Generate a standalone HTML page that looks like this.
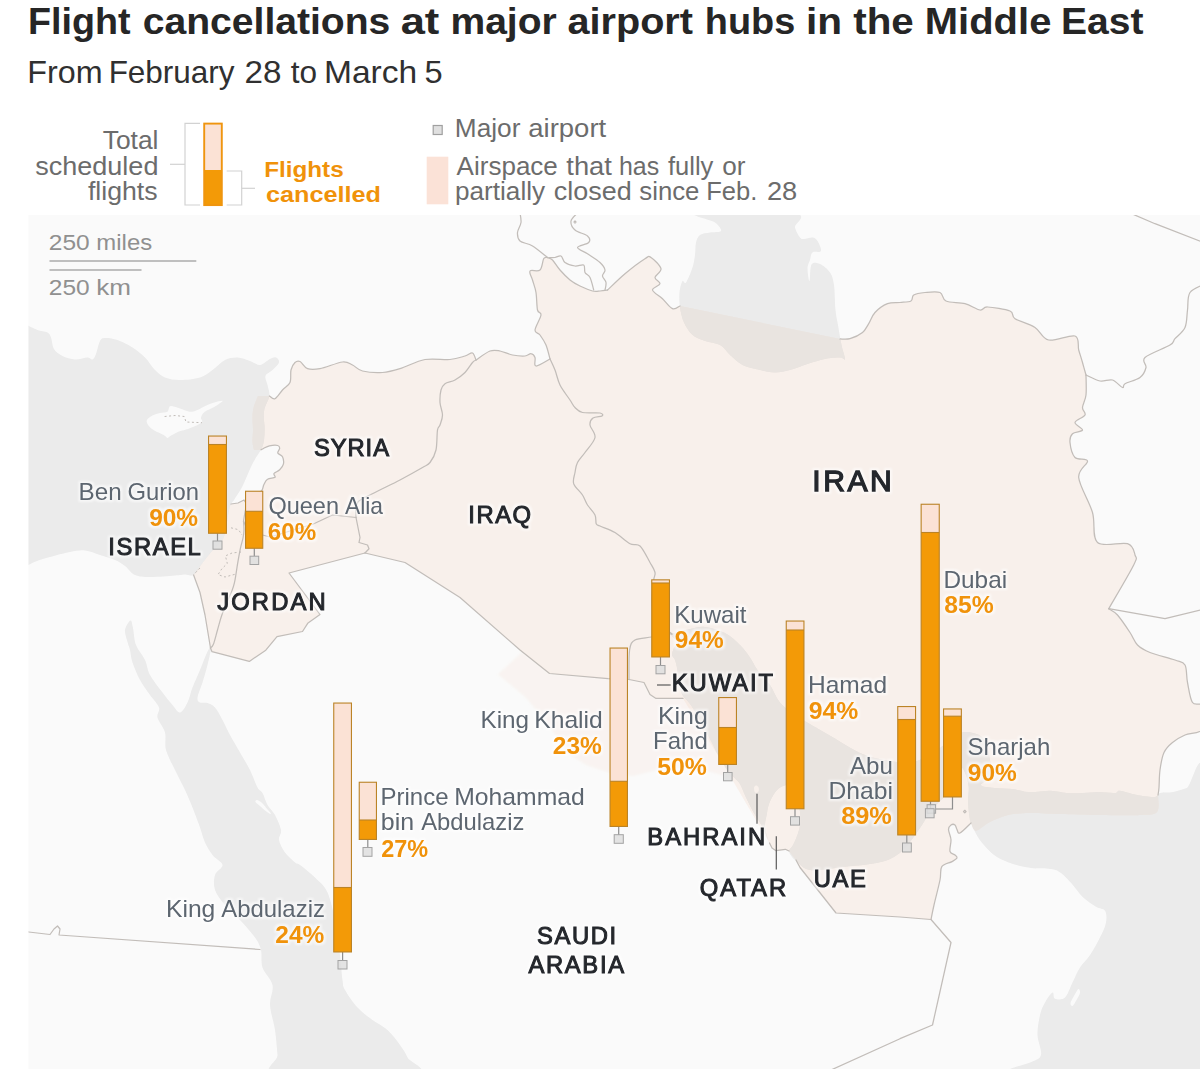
<!DOCTYPE html>
<html lang="en"><head><meta charset="utf-8">
<title>Flight cancellations at major airport hubs in the Middle East</title>
<style>html,body{margin:0;padding:0;background:#fff}body{width:1200px;height:1069px;overflow:hidden}svg{display:block;font-family:"Liberation Sans", Arial, Helvetica, sans-serif}text{white-space:pre}</style>
</head><body>
<svg width="1200" height="1069" viewBox="0 0 1200 1069">
<rect width="1200" height="1069" fill="#ffffff"/>
<defs><clipPath id="mapclip"><rect x="28.5" y="215" width="1172" height="855"/></clipPath>
<clipPath id="pinkclip"><path d="M254.0 450.0C253.8 448.7 252.7 445.3 252.5 442.0C252.3 438.7 253.0 434.0 253.0 430.0C253.0 426.0 252.4 421.7 252.5 418.0C252.6 414.3 252.6 411.7 253.5 408.0C254.4 404.3 257.2 398.0 258.0 396.0L269.4 396.0C270.3 396.4 272.8 399.7 275.0 398.7C277.2 397.7 280.0 392.7 282.5 390.0C285.0 387.3 288.6 385.8 290.0 382.5C291.4 379.2 290.2 373.3 291.0 370.0C291.8 366.7 293.5 363.9 295.0 362.5C296.5 361.1 297.9 360.5 300.0 361.5C302.1 362.5 304.2 367.5 307.5 368.7C310.8 369.9 314.2 369.8 320.0 368.7C325.8 367.6 337.1 362.6 342.5 362.0C347.9 361.4 349.2 363.5 352.5 365.0C355.8 366.5 357.5 369.8 362.5 371.0C367.5 372.2 376.2 372.9 382.5 372.5C388.8 372.1 392.9 370.9 400.0 368.7C407.1 366.5 416.7 361.0 425.0 359.5C433.3 358.0 443.3 360.1 450.0 359.5C456.7 358.9 461.2 357.1 465.0 356.0C468.8 354.9 470.7 352.3 472.5 353.0C474.3 353.7 475.4 358.8 476.0 360.0C478.3 358.5 486.0 352.5 490.0 351.0C494.0 349.5 496.2 350.3 500.0 351.0C503.8 351.7 508.3 354.2 512.5 355.0C516.7 355.8 521.9 356.2 525.0 356.0C528.1 355.8 529.3 353.4 531.0 353.7C532.7 353.9 534.2 355.4 535.0 357.5C535.8 359.6 533.5 365.8 536.0 366.0C538.5 366.2 547.7 360.2 550.0 359.0C549.3 356.7 547.7 349.0 546.0 345.0C544.3 341.0 541.8 337.5 540.0 335.0C538.2 332.5 534.8 333.3 535.0 330.0C535.2 326.7 540.6 318.3 541.0 315.0C541.4 311.7 538.3 313.8 537.5 310.0C536.7 306.2 536.8 297.5 536.0 292.5C535.2 287.5 533.5 283.6 532.5 280.0C531.5 276.4 528.8 272.7 530.0 271.0C531.2 269.3 537.7 272.1 540.0 270.0C542.3 267.9 542.5 260.8 543.7 258.7C545.0 256.6 546.9 257.7 547.5 257.5C548.3 257.9 550.4 257.9 552.5 260.0C554.6 262.1 557.1 266.7 560.0 270.0C562.9 273.3 566.7 277.3 570.0 280.0C573.3 282.7 576.2 284.2 580.0 286.0C583.8 287.8 589.2 290.2 592.5 291.0C595.8 291.8 597.5 291.2 600.0 291.0C602.5 290.8 606.2 290.2 607.5 290.0C610.4 287.3 618.8 278.9 625.0 273.7C631.2 268.5 640.7 261.4 645.0 258.7C649.3 256.0 648.3 255.8 651.0 257.5C653.7 259.2 660.3 265.4 661.0 268.7C661.7 272.0 655.2 275.0 655.0 277.5C654.8 280.0 660.4 281.6 660.0 283.7C659.6 285.8 652.1 287.5 652.5 290.0C652.9 292.5 659.2 295.6 662.5 298.7C665.8 301.8 669.6 307.5 672.5 308.7C675.4 309.9 678.8 306.4 680.0 306.0L840.0 339.0C841.7 338.9 846.2 339.8 850.0 338.7C853.8 337.6 859.4 335.0 862.5 332.5C865.6 330.0 866.6 327.0 868.7 323.7C870.8 320.4 871.9 315.8 875.0 312.5C878.1 309.2 883.3 305.4 887.5 303.7C891.7 302.0 896.1 302.9 900.0 302.5C903.9 302.1 908.7 302.2 911.0 301.0C913.3 299.8 911.4 296.4 913.7 295.0C916.0 293.6 920.6 292.9 925.0 292.5C929.4 292.1 936.5 291.1 940.0 292.5C943.5 293.9 941.8 299.1 946.0 301.0C950.2 302.9 959.3 302.2 965.0 303.7C970.7 305.2 976.2 309.4 980.0 310.0C983.8 310.6 982.5 306.8 987.5 307.0C992.5 307.2 1005.4 309.1 1010.0 311.0C1014.6 312.9 1010.8 315.9 1015.0 318.7C1019.2 321.4 1029.4 323.9 1035.0 327.5C1040.6 331.1 1042.0 338.6 1048.7 340.0C1055.4 341.4 1070.0 334.3 1075.0 336.0C1080.0 337.7 1077.5 345.6 1078.7 350.0C1080.0 354.4 1081.3 358.3 1082.5 362.5C1083.7 366.7 1085.4 372.9 1086.0 375.0C1086.0 378.3 1086.6 389.6 1086.0 395.0C1085.4 400.4 1082.7 404.2 1082.5 407.5C1082.3 410.8 1086.2 412.5 1085.0 415.0C1083.8 417.5 1075.4 420.0 1075.0 422.5C1074.6 425.0 1082.9 428.1 1082.5 430.0C1082.1 431.9 1074.6 431.6 1072.5 433.7C1070.4 435.8 1069.6 438.5 1070.0 442.5C1070.4 446.5 1072.1 454.4 1075.0 457.5C1077.9 460.6 1086.9 457.7 1087.5 461.0C1088.1 464.3 1077.9 468.9 1078.7 477.5C1079.5 486.1 1089.4 501.7 1092.5 512.5C1095.6 523.3 1091.7 537.3 1097.5 542.5C1103.3 547.7 1121.2 541.6 1127.5 543.7C1133.8 545.8 1134.0 551.5 1135.0 555.0C1136.0 558.5 1138.1 556.0 1133.7 565.0C1129.3 574.0 1112.9 601.4 1108.7 608.7C1110.2 609.8 1114.0 611.0 1117.5 615.0C1121.0 619.0 1126.7 627.5 1130.0 632.5C1133.3 637.5 1134.2 641.7 1137.5 645.0C1140.8 648.3 1143.8 650.0 1150.0 652.5C1156.2 655.0 1169.2 657.9 1175.0 660.0C1180.8 662.1 1182.9 661.2 1185.0 665.0C1187.1 668.8 1186.2 676.2 1187.5 682.5C1188.8 688.8 1189.9 698.6 1192.5 702.5C1195.1 706.4 1201.2 701.6 1203.0 706.0C1204.8 710.4 1206.0 724.2 1203.0 729.0C1200.0 733.8 1190.1 732.8 1185.0 735.0C1179.9 737.2 1176.0 739.6 1172.5 742.5C1169.0 745.4 1166.1 747.9 1164.0 752.5C1161.9 757.1 1160.8 764.2 1160.0 770.0C1159.2 775.8 1159.3 783.3 1159.0 787.5C1158.7 791.7 1158.2 793.8 1158.0 795.0C1157.8 797.8 1160.0 808.7 1157.0 812.0C1154.0 815.3 1149.5 814.5 1140.0 815.0C1130.5 815.5 1113.3 815.2 1100.0 815.0C1086.7 814.8 1071.7 814.3 1060.0 814.0C1048.3 813.7 1038.7 812.8 1030.0 813.0C1021.3 813.2 1014.7 813.5 1008.0 815.0C1001.3 816.5 995.0 819.5 990.0 822.0C985.0 824.5 980.7 828.7 978.0 830.0C975.3 831.3 975.0 830.8 973.8 829.6C972.6 828.4 971.5 824.1 971.0 823.0C969.2 824.7 962.3 831.9 960.0 833.0C957.7 834.1 957.8 830.9 957.0 829.6C956.2 828.3 956.0 825.8 955.0 825.0C954.0 824.2 952.1 824.2 951.0 825.0C949.9 825.8 948.5 827.1 948.5 829.6C948.5 832.1 950.8 836.1 951.0 839.7C951.2 843.4 949.3 849.0 950.0 851.5C950.7 854.0 953.8 853.9 955.0 855.0C956.2 856.1 957.5 856.9 957.0 858.0C956.5 859.1 954.5 860.1 952.0 861.6C949.5 863.1 943.8 863.6 941.8 866.7C939.8 869.8 941.3 873.6 940.0 880.0C938.7 886.4 935.5 898.4 934.0 905.0C932.5 911.6 931.5 917.1 931.0 919.5L900.0 917.0L836.0 913.0L800.0 867.5L796.0 860.0L789.0 851.0L785.3 849.3L776.0 850.7L772.0 848.0L769.5 843.0L683.0 696.0C684.2 697.3 687.7 700.8 690.0 704.0C692.3 707.2 694.7 711.0 697.0 715.0C699.3 719.0 701.7 723.7 704.0 728.0C706.3 732.3 708.8 736.8 711.0 741.0C713.2 745.2 714.8 749.0 717.0 753.0C719.2 757.0 722.0 761.8 724.0 765.0C726.0 768.2 727.2 769.8 729.0 772.0C730.8 774.2 733.2 776.5 735.0 778.5C736.8 780.5 738.3 781.1 740.0 784.0C741.7 786.9 743.1 791.3 745.3 796.0C747.5 800.7 750.8 807.5 753.3 812.0C755.8 816.5 758.0 819.2 760.0 822.7C762.0 826.2 764.4 831.5 765.3 833.3L683.0 698.4L656.0 698.4L650.0 694.5L644.0 682.5L629.0 679.5L608.0 678.6L549.5 673.5L520.0 650.0L460.0 597.5L405.0 562.5L365.0 553.0L289.0 573.0L320.0 614.5L307.7 623.3L302.5 631.5L277.0 636.7L265.8 650.2L249.3 661.4L212.0 651.7L210.5 648.0L205.0 615.0L200.0 592.5L193.6 575.0C194.8 573.3 198.2 568.7 201.0 565.0C203.8 561.3 207.7 556.2 210.4 553.0C213.1 549.8 214.8 548.5 217.0 546.0C219.2 543.5 221.9 541.5 223.5 538.0C225.1 534.5 225.6 529.7 226.5 525.0C227.4 520.3 228.2 513.5 229.0 510.0C229.8 506.5 230.7 505.0 231.0 504.0L238.0 503.0L244.0 500.0L247.0 504.0C247.7 503.2 249.5 500.5 251.0 499.0C252.5 497.5 254.2 496.4 256.0 495.0C257.8 493.6 260.6 492.1 261.9 490.4C263.2 488.7 262.9 486.7 263.8 484.8C264.7 482.9 265.6 480.4 267.5 479.2C269.4 477.9 273.9 478.2 275.0 477.3C276.1 476.4 273.2 474.8 274.0 473.5C274.8 472.2 278.1 471.4 279.7 469.8C281.3 468.2 282.9 466.4 283.4 464.2C283.9 462.0 283.4 458.6 282.5 456.7C281.6 454.8 278.3 454.4 277.8 453.0C277.3 451.6 279.7 449.6 279.7 448.3C279.7 447.1 279.5 445.9 277.8 445.5C276.1 445.1 271.7 445.4 269.4 445.9C267.1 446.4 265.2 447.6 263.8 448.3C262.4 449.0 261.5 449.6 261.0 449.8L254.0 450.0Z"/></clipPath>
<filter id="soft" x="-5%" y="-5%" width="110%" height="110%"><feGaussianBlur stdDeviation="0.6"/></filter>
<filter id="soft2" x="-10%" y="-10%" width="120%" height="120%"><feGaussianBlur stdDeviation="1.3"/></filter>
<filter id="halo" x="-15%" y="-40%" width="130%" height="180%" color-interpolation-filters="sRGB"><feMorphology in="SourceAlpha" operator="dilate" radius="1.6" result="d"/><feGaussianBlur in="d" stdDeviation="0.9" result="b"/><feFlood flood-color="#ffffff" flood-opacity="0.62"/><feComposite in2="b" operator="in" result="h"/><feMerge><feMergeNode in="h"/><feMergeNode in="SourceGraphic"/></feMerge></filter>
</defs>
<g clip-path="url(#mapclip)">
<rect x="28" y="214" width="1173" height="856" fill="#fafafa"/>
<g fill="#ebebeb" filter="url(#soft)">
<path d="M20.0 324.0C21.4 283.8 25.8 325.0 28.7 326.0C31.6 327.0 34.4 328.9 37.5 330.0C40.6 331.1 45.2 331.2 47.5 332.5C49.8 333.8 49.9 334.8 51.0 337.5C52.1 340.2 52.1 345.9 54.0 349.0C55.9 352.1 59.0 354.2 62.5 356.0C66.0 357.8 70.8 359.2 75.0 359.5C79.2 359.8 84.6 357.5 87.5 357.5C90.4 357.5 91.1 360.1 92.5 359.5C93.9 358.9 94.8 357.1 96.0 354.0C97.2 350.9 98.5 343.7 100.0 341.0C101.5 338.3 102.1 338.2 105.0 338.0C107.9 337.8 112.9 338.4 117.5 340.0C122.1 341.6 127.9 344.6 132.5 347.5C137.1 350.4 141.2 353.8 145.0 357.5C148.8 361.2 151.7 366.7 155.0 370.0C158.3 373.3 160.8 375.8 165.0 377.5C169.2 379.2 174.2 380.0 180.0 380.0C185.8 380.0 194.6 379.2 200.0 377.5C205.4 375.8 208.3 372.9 212.5 370.0C216.7 367.1 220.8 362.1 225.0 360.0C229.2 357.9 233.3 357.3 237.5 357.5C241.7 357.7 246.2 359.8 250.0 361.0C253.8 362.2 256.7 365.3 260.0 365.0C263.3 364.7 267.3 360.2 270.0 359.0C272.7 357.8 274.5 356.9 276.0 357.5C277.5 358.1 279.6 360.4 279.0 362.5C278.4 364.6 274.8 367.8 272.5 370.0C270.2 372.2 266.3 373.5 265.5 376.0C264.7 378.5 266.9 381.7 267.5 385.0C268.1 388.3 269.9 392.2 269.4 396.0C268.9 399.8 265.6 404.4 264.7 408.0C263.8 411.6 263.8 414.0 263.8 417.4C263.8 420.8 264.7 424.6 264.7 428.6C264.7 432.7 264.4 438.2 263.8 441.7C263.2 445.2 262.4 447.0 261.0 449.8C259.6 452.6 257.3 455.3 255.4 458.6C253.5 461.9 251.9 465.1 249.7 469.8C247.5 474.5 244.9 481.6 242.3 486.6C239.7 491.6 235.9 497.1 234.0 500.0C232.1 502.9 231.8 502.3 231.0 504.0C230.2 505.7 229.8 506.5 229.0 510.0C228.2 513.5 227.4 520.3 226.5 525.0C225.6 529.7 225.1 534.5 223.5 538.0C221.9 541.5 219.2 543.5 217.0 546.0C214.8 548.5 213.1 549.8 210.4 553.0C207.7 556.2 203.8 561.3 201.0 565.0C198.2 568.7 196.3 573.4 193.6 575.0C190.9 576.6 188.1 574.4 185.0 574.5C181.9 574.6 180.8 575.1 175.0 575.5C169.2 575.9 156.7 577.1 150.0 577.0C143.3 576.9 139.2 576.8 135.0 575.0C130.8 573.2 128.3 568.5 125.0 566.0C121.7 563.5 119.2 561.8 115.0 560.0C110.8 558.2 105.0 556.6 100.0 555.0C95.0 553.4 90.0 551.0 85.0 550.5C80.0 550.0 75.8 550.9 70.0 552.0C64.2 553.1 55.5 555.5 50.0 557.0C44.5 558.5 40.7 559.7 37.0 561.0C33.3 562.3 30.8 564.0 28.0 565.0C25.2 566.0 21.3 607.2 20.0 567.0C18.7 526.8 18.6 364.2 20.0 324.0Z"/>
<path d="M130.5 620.5C129.2 620.8 125.5 626.4 125.0 630.0C124.5 633.6 126.7 638.7 127.5 642.0C128.3 645.3 129.2 646.6 130.0 650.0C130.8 653.4 130.8 657.5 132.5 662.5C134.2 667.5 137.1 674.6 140.0 680.0C142.9 685.4 146.8 690.4 150.0 695.0C153.2 699.6 157.8 703.8 159.0 707.5C160.2 711.2 156.5 713.3 157.5 717.5C158.5 721.7 163.6 727.1 165.0 732.5C166.4 737.9 164.3 743.8 166.0 750.0C167.7 756.2 171.8 763.3 175.0 770.0C178.2 776.7 182.1 783.8 185.0 790.0C187.9 796.2 190.0 801.2 192.5 807.5C195.0 813.8 197.9 821.7 200.0 827.5C202.1 833.3 202.9 837.9 205.0 842.5C207.1 847.1 209.6 851.2 212.5 855.0C215.4 858.8 222.1 861.7 222.5 865.0C222.9 868.3 216.2 870.8 215.0 875.0C213.8 879.2 213.3 885.0 215.0 890.0C216.7 895.0 220.8 900.0 225.0 905.0C229.2 910.0 235.0 914.6 240.0 920.0C245.0 925.4 251.5 932.5 255.0 937.5C258.5 942.5 259.8 945.0 261.0 950.0C262.2 955.0 260.6 961.7 262.5 967.5C264.4 973.3 271.2 978.8 272.5 985.0C273.8 991.2 269.6 997.5 270.0 1005.0C270.4 1012.5 273.8 1021.7 275.0 1030.0C276.2 1038.3 276.8 1047.5 277.5 1055.0C278.2 1062.5 256.2 1071.7 279.0 1075.0C301.8 1078.3 392.6 1077.9 414.0 1075.0C435.4 1072.1 409.8 1062.5 407.5 1057.5C405.2 1052.5 403.3 1049.6 400.0 1045.0C396.7 1040.4 392.1 1034.2 387.5 1030.0C382.9 1025.8 377.5 1023.8 372.5 1020.0C367.5 1016.2 362.1 1012.5 357.5 1007.5C352.9 1002.5 347.5 994.6 345.0 990.0C342.5 985.4 343.3 985.8 342.5 980.0C341.7 974.2 341.1 964.2 340.0 955.0C338.9 945.8 338.1 935.4 336.0 925.0C333.9 914.6 331.0 900.4 327.5 892.5C324.0 884.6 319.6 882.1 315.0 877.5C310.4 872.9 303.3 867.5 300.0 865.0C296.7 862.5 297.5 864.6 295.0 862.5C292.5 860.4 287.7 856.2 285.0 852.5C282.3 848.8 279.7 843.8 279.0 840.0C278.3 836.2 281.7 834.2 281.0 830.0C280.3 825.8 277.2 819.2 275.0 815.0C272.8 810.8 269.6 808.7 267.5 805.0C265.4 801.3 264.2 795.9 262.5 793.0C260.8 790.1 259.6 791.3 257.5 787.5C255.4 783.7 252.9 775.8 250.0 770.0C247.1 764.2 243.3 758.3 240.0 752.5C236.7 746.7 232.9 740.4 230.0 735.0C227.1 729.6 225.0 724.6 222.5 720.0C220.0 715.4 217.5 710.3 215.0 707.5C212.5 704.7 210.0 703.8 207.5 703.0C205.0 702.2 201.7 703.4 200.0 702.5C198.3 701.6 197.1 700.8 197.5 697.5C197.9 694.2 200.8 687.9 202.5 682.5C204.2 677.1 206.1 670.6 207.5 665.0C208.9 659.4 210.6 652.0 211.0 649.0C211.4 646.0 210.8 646.0 210.0 647.0C209.2 648.0 207.7 651.2 206.0 655.0C204.3 658.8 202.2 664.6 200.0 670.0C197.8 675.4 194.6 682.1 192.5 687.5C190.4 692.9 189.6 698.3 187.5 702.5C185.4 706.7 182.5 712.1 180.0 712.5C177.5 712.9 175.4 708.3 172.5 705.0C169.6 701.7 166.2 697.5 162.5 692.5C158.8 687.5 152.9 680.4 150.0 675.0C147.1 669.6 147.3 665.0 145.0 660.0C142.7 655.0 138.0 650.3 136.0 645.0C134.0 639.7 133.9 632.1 133.0 628.0C132.1 623.9 131.8 620.2 130.5 620.5Z"/>
<path d="M697.5 213.0C684.3 214.6 711.1 219.5 715.0 222.5C718.9 225.5 721.8 229.3 721.0 231.0C720.2 232.7 713.5 231.8 710.0 232.5C706.5 233.2 702.3 233.3 700.0 235.0C697.7 236.7 696.8 239.2 696.0 242.5C695.2 245.8 695.6 250.8 695.0 255.0C694.4 259.2 694.0 262.9 692.5 267.5C691.0 272.1 687.7 280.2 686.0 282.5C684.3 284.8 683.6 279.3 682.5 281.0C681.4 282.7 679.9 288.1 679.5 292.5C679.1 296.9 679.2 302.5 680.0 307.5C680.8 312.5 681.9 317.9 684.0 322.5C686.1 327.1 689.0 331.9 692.5 335.0C696.0 338.1 700.4 339.3 705.0 341.0C709.6 342.7 715.8 342.7 720.0 345.0C724.2 347.3 726.2 351.7 730.0 355.0C733.8 358.3 737.5 362.5 742.5 365.0C747.5 367.5 754.6 368.8 760.0 370.0C765.4 371.2 770.0 372.5 775.0 372.5C780.0 372.5 784.6 371.4 790.0 370.0C795.4 368.6 801.7 365.8 807.5 364.0C813.3 362.2 819.6 360.1 825.0 359.0C830.4 357.9 836.7 357.5 840.0 357.5C843.3 357.5 844.8 361.1 845.0 359.0C845.2 356.9 842.7 350.7 841.5 345.0C840.3 339.3 839.0 330.8 838.0 325.0C837.0 319.2 836.2 316.7 835.5 310.0C834.8 303.3 834.9 291.2 834.0 285.0C833.1 278.8 832.3 276.0 830.0 272.5C827.7 269.0 823.1 265.3 820.0 264.0C816.9 262.7 813.2 261.7 811.5 264.5C809.8 267.3 810.2 280.4 809.5 281.0C808.8 281.6 807.4 271.5 807.5 268.0C807.6 264.5 809.2 262.6 810.0 260.0C810.8 257.4 810.7 254.0 812.5 252.5C814.3 251.0 820.2 252.9 821.0 251.0C821.8 249.1 818.9 243.2 817.5 241.0C816.1 238.8 814.8 237.8 812.5 237.5C810.2 237.2 806.1 239.0 804.0 239.0C801.9 239.0 801.5 239.4 800.0 237.5C798.5 235.6 796.0 231.6 795.0 227.5C794.0 223.4 810.2 215.4 794.0 213.0C777.8 210.6 710.7 211.4 697.5 213.0Z"/>
<path d="M672.0 634.0C674.3 632.2 684.5 630.2 690.0 629.0C695.5 627.8 699.2 626.3 705.0 627.0C710.8 627.7 719.2 630.0 725.0 633.0C730.8 636.0 735.8 640.9 740.0 645.0C744.2 649.1 747.1 653.3 750.0 657.5C752.9 661.7 754.2 665.4 757.5 670.0C760.8 674.6 766.2 679.6 770.0 685.0C773.8 690.4 775.8 697.5 780.0 702.5C784.2 707.5 790.0 711.4 795.0 715.0C800.0 718.6 805.5 721.3 810.0 724.0C814.5 726.7 817.8 728.6 822.0 731.0C826.2 733.4 830.7 735.9 835.0 738.5C839.3 741.1 843.4 743.9 848.0 746.5C852.6 749.1 858.0 752.1 862.5 754.0C867.0 755.9 870.4 756.8 875.0 758.0C879.6 759.2 884.5 760.2 890.0 761.0C895.5 761.8 902.3 763.5 908.0 763.0C913.7 762.5 918.7 760.5 924.0 758.0C929.3 755.5 934.2 752.1 940.0 748.0C945.8 743.9 953.2 735.9 959.0 733.5C964.8 731.1 970.7 732.2 975.0 733.5C979.3 734.8 982.5 736.6 985.0 741.0C987.5 745.4 989.0 754.2 990.0 760.0C991.0 765.8 992.5 771.8 991.0 776.0C989.5 780.2 980.4 783.0 981.0 785.0C981.6 787.0 989.4 787.3 994.7 788.0C1000.0 788.7 1007.3 788.3 1013.0 789.0C1018.7 789.7 1022.7 791.7 1029.0 792.0C1035.3 792.3 1044.4 790.5 1050.7 790.7C1057.0 790.9 1061.4 792.6 1066.7 793.0C1072.0 793.4 1077.4 793.2 1082.7 793.0C1088.0 792.8 1093.4 792.0 1098.7 792.0C1104.0 792.0 1111.2 793.2 1114.7 793.0C1118.2 792.8 1116.5 790.4 1120.0 790.7C1123.5 791.0 1130.2 793.7 1136.0 794.7C1141.8 795.8 1150.7 797.3 1154.7 797.0C1158.7 796.7 1157.0 793.8 1160.0 793.0C1163.0 792.2 1168.5 792.8 1173.0 792.0C1177.5 791.2 1181.4 789.5 1186.7 788.0C1192.0 786.5 1202.0 735.2 1205.0 783.0C1208.0 830.8 1237.8 1026.3 1205.0 1075.0C1172.2 1123.7 1040.5 1076.0 1008.0 1075.0C975.5 1074.0 1006.3 1071.1 1010.0 1069.0C1013.7 1066.9 1024.8 1064.8 1030.0 1062.5C1035.2 1060.2 1039.8 1059.6 1041.0 1055.0C1042.2 1050.4 1037.7 1041.7 1037.5 1035.0C1037.3 1028.3 1038.8 1020.4 1040.0 1015.0C1041.2 1009.6 1042.9 1006.2 1045.0 1002.5C1047.1 998.8 1050.8 993.1 1052.5 992.5C1054.2 991.9 1052.9 997.9 1055.0 998.7C1057.1 999.5 1062.1 1000.2 1065.0 997.5C1067.9 994.8 1070.0 987.5 1072.5 982.5C1075.0 977.5 1077.1 972.1 1080.0 967.5C1082.9 962.9 1086.7 960.0 1090.0 955.0C1093.3 950.0 1097.3 942.9 1100.0 937.5C1102.7 932.1 1105.2 927.0 1106.0 922.5C1106.8 918.0 1106.7 913.3 1105.0 910.7C1103.3 908.1 1099.7 909.0 1096.0 906.7C1092.3 904.4 1086.7 900.8 1082.7 897.0C1078.7 893.2 1075.6 888.0 1072.0 884.0C1068.4 880.0 1064.5 875.5 1061.0 873.0C1057.5 870.5 1055.7 869.8 1050.7 869.0C1045.7 868.2 1037.3 868.8 1031.0 868.0C1024.7 867.2 1018.7 865.8 1013.0 864.0C1007.3 862.2 1001.3 859.6 997.0 857.0C992.7 854.4 990.0 851.6 987.0 848.5C984.0 845.4 981.0 841.6 978.8 838.5C976.6 835.4 975.1 832.2 973.8 829.6C972.5 827.0 971.7 824.9 971.0 823.0C970.3 821.1 970.1 821.7 969.6 818.0C969.1 814.3 968.1 806.1 968.0 801.0C967.9 795.9 969.0 791.8 968.7 787.5C968.4 783.2 967.3 778.4 966.0 775.0C964.7 771.6 962.8 767.5 961.0 767.0C959.2 766.5 956.5 769.0 955.0 772.0C953.5 775.0 953.5 781.2 952.0 785.0C950.5 788.8 948.3 792.0 946.0 795.0C943.7 798.0 940.7 800.2 938.0 803.0C935.3 805.8 932.7 808.3 930.0 812.0C927.3 815.7 924.8 820.7 922.0 825.0C919.2 829.3 915.7 834.3 913.0 838.0C910.3 841.7 908.7 844.2 906.0 847.0C903.3 849.8 900.5 852.7 897.0 855.0C893.5 857.3 890.0 859.4 885.0 861.0C880.0 862.6 873.7 863.5 866.7 864.5C859.7 865.5 850.8 866.1 843.0 867.0C835.2 867.9 826.2 869.7 820.0 870.0C813.8 870.3 809.8 870.4 806.0 869.0C802.2 867.6 799.3 863.5 797.0 861.5C794.7 859.5 793.3 858.8 792.0 857.0C790.7 855.2 788.8 853.0 789.0 851.0C789.2 849.0 791.7 847.5 793.0 845.0C794.3 842.5 795.8 839.3 797.0 836.0C798.2 832.7 799.5 829.0 800.0 825.0C800.5 821.0 800.5 816.2 800.0 812.0C799.5 807.8 798.2 803.7 797.0 800.0C795.8 796.3 794.5 792.5 793.0 790.0C791.5 787.5 790.0 785.5 788.0 785.0C786.0 784.5 783.2 785.8 781.0 787.0C778.8 788.2 777.0 789.7 775.0 792.5C773.0 795.3 770.4 800.2 769.0 804.0C767.6 807.8 767.4 811.5 766.7 815.0C766.0 818.5 765.0 821.5 765.0 825.0C765.0 828.5 766.2 833.0 767.0 836.0C767.8 839.0 769.8 843.5 769.5 843.0C769.2 842.5 766.9 836.7 765.3 833.3C763.7 829.9 762.0 826.2 760.0 822.7C758.0 819.2 755.8 816.5 753.3 812.0C750.8 807.5 747.5 800.7 745.3 796.0C743.1 791.3 741.7 786.9 740.0 784.0C738.3 781.1 736.8 780.5 735.0 778.5C733.2 776.5 730.8 774.2 729.0 772.0C727.2 769.8 726.0 768.2 724.0 765.0C722.0 761.8 719.2 757.0 717.0 753.0C714.8 749.0 713.2 745.2 711.0 741.0C708.8 736.8 706.3 732.3 704.0 728.0C701.7 723.7 699.3 719.0 697.0 715.0C694.7 711.0 692.3 707.2 690.0 704.0C687.7 700.8 684.7 698.7 683.0 696.0C681.3 693.3 680.8 691.3 680.0 688.0C679.2 684.7 678.5 679.3 678.0 676.0C677.5 672.7 677.5 670.7 677.0 668.0C676.5 665.3 675.8 662.2 675.0 660.0C674.2 657.8 672.2 657.0 672.0 655.0C671.8 653.0 673.0 650.0 674.0 648.0C675.0 646.0 677.7 644.3 678.0 643.0C678.3 641.7 677.0 641.5 676.0 640.0C675.0 638.5 669.7 635.8 672.0 634.0Z"/>
</g>
<g fill="#fafafa">
<path d="M146.8 420.2C147.4 418.5 150.3 416.7 152.5 415.5C154.7 414.3 157.5 413.6 160.0 413.0C162.5 412.4 165.7 412.9 167.4 411.8C169.1 410.7 168.3 406.8 170.2 406.2C172.1 405.6 175.0 407.1 178.6 408.0C182.2 408.9 187.3 412.1 191.7 411.8C196.1 411.5 201.1 407.8 204.8 406.2C208.6 404.6 211.2 403.4 214.2 402.5C217.2 401.6 222.6 400.2 222.6 401.0C222.6 401.8 217.2 405.2 214.2 407.0C211.2 408.8 207.0 410.1 204.8 411.8C202.6 413.5 201.5 415.7 201.0 417.4C200.5 419.1 203.2 420.4 202.0 422.0C200.8 423.6 196.3 425.5 193.6 426.8C190.9 428.1 188.8 428.7 186.0 429.6C183.2 430.5 179.4 431.3 176.8 432.4C174.2 433.5 171.8 435.1 170.2 436.0C168.6 436.9 168.5 438.2 167.4 438.0C166.3 437.8 165.9 436.2 163.7 435.0C161.5 433.8 156.8 432.0 154.3 430.5C151.8 429.0 149.9 427.5 148.7 425.8C147.4 424.1 146.2 421.9 146.8 420.2Z"/>
<path d="M257.0 800.0C258.1 800.2 260.2 801.3 262.0 803.0C263.8 804.7 266.5 808.2 268.0 810.0C269.5 811.8 271.2 813.7 271.0 814.0C270.8 814.3 268.8 813.3 267.0 812.0C265.2 810.7 261.9 807.7 260.0 806.0C258.1 804.3 256.0 803.0 255.5 802.0C255.0 801.0 255.9 799.8 257.0 800.0Z"/>
<path d="M754.2 787.0C754.5 786.0 755.8 785.4 756.5 785.5C757.2 785.6 758.2 786.6 758.6 787.5C759.0 788.4 759.0 790.1 758.6 791.0C758.2 791.9 757.2 792.9 756.5 793.0C755.8 793.1 754.9 792.5 754.5 791.5C754.1 790.5 753.9 788.0 754.2 787.0Z"/>
<path d="M1078.5 989.0C1079.5 988.5 1080.3 991.2 1080.0 993.0C1079.7 994.8 1077.8 997.8 1076.5 1000.0C1075.2 1002.2 1073.5 1005.5 1072.5 1006.0C1071.5 1006.5 1070.2 1004.7 1070.5 1003.0C1070.8 1001.3 1072.7 998.3 1074.0 996.0C1075.3 993.7 1077.5 989.5 1078.5 989.0Z"/>
</g>
<g fill="#f2c9b4" fill-opacity="0.21">
<path d="M254.0 450.0C253.8 448.7 252.7 445.3 252.5 442.0C252.3 438.7 253.0 434.0 253.0 430.0C253.0 426.0 252.4 421.7 252.5 418.0C252.6 414.3 252.6 411.7 253.5 408.0C254.4 404.3 257.2 398.0 258.0 396.0L269.4 396.0C270.3 396.4 272.8 399.7 275.0 398.7C277.2 397.7 280.0 392.7 282.5 390.0C285.0 387.3 288.6 385.8 290.0 382.5C291.4 379.2 290.2 373.3 291.0 370.0C291.8 366.7 293.5 363.9 295.0 362.5C296.5 361.1 297.9 360.5 300.0 361.5C302.1 362.5 304.2 367.5 307.5 368.7C310.8 369.9 314.2 369.8 320.0 368.7C325.8 367.6 337.1 362.6 342.5 362.0C347.9 361.4 349.2 363.5 352.5 365.0C355.8 366.5 357.5 369.8 362.5 371.0C367.5 372.2 376.2 372.9 382.5 372.5C388.8 372.1 392.9 370.9 400.0 368.7C407.1 366.5 416.7 361.0 425.0 359.5C433.3 358.0 443.3 360.1 450.0 359.5C456.7 358.9 461.2 357.1 465.0 356.0C468.8 354.9 470.7 352.3 472.5 353.0C474.3 353.7 475.4 358.8 476.0 360.0C478.3 358.5 486.0 352.5 490.0 351.0C494.0 349.5 496.2 350.3 500.0 351.0C503.8 351.7 508.3 354.2 512.5 355.0C516.7 355.8 521.9 356.2 525.0 356.0C528.1 355.8 529.3 353.4 531.0 353.7C532.7 353.9 534.2 355.4 535.0 357.5C535.8 359.6 533.5 365.8 536.0 366.0C538.5 366.2 547.7 360.2 550.0 359.0C549.3 356.7 547.7 349.0 546.0 345.0C544.3 341.0 541.8 337.5 540.0 335.0C538.2 332.5 534.8 333.3 535.0 330.0C535.2 326.7 540.6 318.3 541.0 315.0C541.4 311.7 538.3 313.8 537.5 310.0C536.7 306.2 536.8 297.5 536.0 292.5C535.2 287.5 533.5 283.6 532.5 280.0C531.5 276.4 528.8 272.7 530.0 271.0C531.2 269.3 537.7 272.1 540.0 270.0C542.3 267.9 542.5 260.8 543.7 258.7C545.0 256.6 546.9 257.7 547.5 257.5C548.3 257.9 550.4 257.9 552.5 260.0C554.6 262.1 557.1 266.7 560.0 270.0C562.9 273.3 566.7 277.3 570.0 280.0C573.3 282.7 576.2 284.2 580.0 286.0C583.8 287.8 589.2 290.2 592.5 291.0C595.8 291.8 597.5 291.2 600.0 291.0C602.5 290.8 606.2 290.2 607.5 290.0C610.4 287.3 618.8 278.9 625.0 273.7C631.2 268.5 640.7 261.4 645.0 258.7C649.3 256.0 648.3 255.8 651.0 257.5C653.7 259.2 660.3 265.4 661.0 268.7C661.7 272.0 655.2 275.0 655.0 277.5C654.8 280.0 660.4 281.6 660.0 283.7C659.6 285.8 652.1 287.5 652.5 290.0C652.9 292.5 659.2 295.6 662.5 298.7C665.8 301.8 669.6 307.5 672.5 308.7C675.4 309.9 678.8 306.4 680.0 306.0L840.0 339.0C841.7 338.9 846.2 339.8 850.0 338.7C853.8 337.6 859.4 335.0 862.5 332.5C865.6 330.0 866.6 327.0 868.7 323.7C870.8 320.4 871.9 315.8 875.0 312.5C878.1 309.2 883.3 305.4 887.5 303.7C891.7 302.0 896.1 302.9 900.0 302.5C903.9 302.1 908.7 302.2 911.0 301.0C913.3 299.8 911.4 296.4 913.7 295.0C916.0 293.6 920.6 292.9 925.0 292.5C929.4 292.1 936.5 291.1 940.0 292.5C943.5 293.9 941.8 299.1 946.0 301.0C950.2 302.9 959.3 302.2 965.0 303.7C970.7 305.2 976.2 309.4 980.0 310.0C983.8 310.6 982.5 306.8 987.5 307.0C992.5 307.2 1005.4 309.1 1010.0 311.0C1014.6 312.9 1010.8 315.9 1015.0 318.7C1019.2 321.4 1029.4 323.9 1035.0 327.5C1040.6 331.1 1042.0 338.6 1048.7 340.0C1055.4 341.4 1070.0 334.3 1075.0 336.0C1080.0 337.7 1077.5 345.6 1078.7 350.0C1080.0 354.4 1081.3 358.3 1082.5 362.5C1083.7 366.7 1085.4 372.9 1086.0 375.0C1086.0 378.3 1086.6 389.6 1086.0 395.0C1085.4 400.4 1082.7 404.2 1082.5 407.5C1082.3 410.8 1086.2 412.5 1085.0 415.0C1083.8 417.5 1075.4 420.0 1075.0 422.5C1074.6 425.0 1082.9 428.1 1082.5 430.0C1082.1 431.9 1074.6 431.6 1072.5 433.7C1070.4 435.8 1069.6 438.5 1070.0 442.5C1070.4 446.5 1072.1 454.4 1075.0 457.5C1077.9 460.6 1086.9 457.7 1087.5 461.0C1088.1 464.3 1077.9 468.9 1078.7 477.5C1079.5 486.1 1089.4 501.7 1092.5 512.5C1095.6 523.3 1091.7 537.3 1097.5 542.5C1103.3 547.7 1121.2 541.6 1127.5 543.7C1133.8 545.8 1134.0 551.5 1135.0 555.0C1136.0 558.5 1138.1 556.0 1133.7 565.0C1129.3 574.0 1112.9 601.4 1108.7 608.7C1110.2 609.8 1114.0 611.0 1117.5 615.0C1121.0 619.0 1126.7 627.5 1130.0 632.5C1133.3 637.5 1134.2 641.7 1137.5 645.0C1140.8 648.3 1143.8 650.0 1150.0 652.5C1156.2 655.0 1169.2 657.9 1175.0 660.0C1180.8 662.1 1182.9 661.2 1185.0 665.0C1187.1 668.8 1186.2 676.2 1187.5 682.5C1188.8 688.8 1189.9 698.6 1192.5 702.5C1195.1 706.4 1201.2 701.6 1203.0 706.0C1204.8 710.4 1206.0 724.2 1203.0 729.0C1200.0 733.8 1190.1 732.8 1185.0 735.0C1179.9 737.2 1176.0 739.6 1172.5 742.5C1169.0 745.4 1166.1 747.9 1164.0 752.5C1161.9 757.1 1160.8 764.2 1160.0 770.0C1159.2 775.8 1159.3 783.3 1159.0 787.5C1158.7 791.7 1158.2 793.8 1158.0 795.0C1157.8 797.8 1160.0 808.7 1157.0 812.0C1154.0 815.3 1149.5 814.5 1140.0 815.0C1130.5 815.5 1113.3 815.2 1100.0 815.0C1086.7 814.8 1071.7 814.3 1060.0 814.0C1048.3 813.7 1038.7 812.8 1030.0 813.0C1021.3 813.2 1014.7 813.5 1008.0 815.0C1001.3 816.5 995.0 819.5 990.0 822.0C985.0 824.5 980.7 828.7 978.0 830.0C975.3 831.3 975.0 830.8 973.8 829.6C972.6 828.4 971.5 824.1 971.0 823.0C969.2 824.7 962.3 831.9 960.0 833.0C957.7 834.1 957.8 830.9 957.0 829.6C956.2 828.3 956.0 825.8 955.0 825.0C954.0 824.2 952.1 824.2 951.0 825.0C949.9 825.8 948.5 827.1 948.5 829.6C948.5 832.1 950.8 836.1 951.0 839.7C951.2 843.4 949.3 849.0 950.0 851.5C950.7 854.0 953.8 853.9 955.0 855.0C956.2 856.1 957.5 856.9 957.0 858.0C956.5 859.1 954.5 860.1 952.0 861.6C949.5 863.1 943.8 863.6 941.8 866.7C939.8 869.8 941.3 873.6 940.0 880.0C938.7 886.4 935.5 898.4 934.0 905.0C932.5 911.6 931.5 917.1 931.0 919.5L900.0 917.0L836.0 913.0L800.0 867.5L796.0 860.0L789.0 851.0L785.3 849.3L776.0 850.7L772.0 848.0L769.5 843.0L683.0 696.0C684.2 697.3 687.7 700.8 690.0 704.0C692.3 707.2 694.7 711.0 697.0 715.0C699.3 719.0 701.7 723.7 704.0 728.0C706.3 732.3 708.8 736.8 711.0 741.0C713.2 745.2 714.8 749.0 717.0 753.0C719.2 757.0 722.0 761.8 724.0 765.0C726.0 768.2 727.2 769.8 729.0 772.0C730.8 774.2 733.2 776.5 735.0 778.5C736.8 780.5 738.3 781.1 740.0 784.0C741.7 786.9 743.1 791.3 745.3 796.0C747.5 800.7 750.8 807.5 753.3 812.0C755.8 816.5 758.0 819.2 760.0 822.7C762.0 826.2 764.4 831.5 765.3 833.3L683.0 698.4L656.0 698.4L650.0 694.5L644.0 682.5L629.0 679.5L608.0 678.6L549.5 673.5L520.0 650.0L460.0 597.5L405.0 562.5L365.0 553.0L289.0 573.0L320.0 614.5L307.7 623.3L302.5 631.5L277.0 636.7L265.8 650.2L249.3 661.4L212.0 651.7L210.5 648.0L205.0 615.0L200.0 592.5L193.6 575.0C194.8 573.3 198.2 568.7 201.0 565.0C203.8 561.3 207.7 556.2 210.4 553.0C213.1 549.8 214.8 548.5 217.0 546.0C219.2 543.5 221.9 541.5 223.5 538.0C225.1 534.5 225.6 529.7 226.5 525.0C227.4 520.3 228.2 513.5 229.0 510.0C229.8 506.5 230.7 505.0 231.0 504.0L238.0 503.0L244.0 500.0L247.0 504.0C247.7 503.2 249.5 500.5 251.0 499.0C252.5 497.5 254.2 496.4 256.0 495.0C257.8 493.6 260.6 492.1 261.9 490.4C263.2 488.7 262.9 486.7 263.8 484.8C264.7 482.9 265.6 480.4 267.5 479.2C269.4 477.9 273.9 478.2 275.0 477.3C276.1 476.4 273.2 474.8 274.0 473.5C274.8 472.2 278.1 471.4 279.7 469.8C281.3 468.2 282.9 466.4 283.4 464.2C283.9 462.0 283.4 458.6 282.5 456.7C281.6 454.8 278.3 454.4 277.8 453.0C277.3 451.6 279.7 449.6 279.7 448.3C279.7 447.1 279.5 445.9 277.8 445.5C276.1 445.1 271.7 445.4 269.4 445.9C267.1 446.4 265.2 447.6 263.8 448.3C262.4 449.0 261.5 449.6 261.0 449.8L254.0 450.0Z"/>
</g>
<g fill="#f2c9b4" fill-opacity="0.130" filter="url(#soft2)">
<path d="M522.0 652.0L498.0 674.3L526.0 697.7L547.0 723.3L568.0 753.7L586.7 765.3L610.0 773.0L633.0 776.0L657.0 770.0L680.0 768.0L703.0 770.0L735.0 778.5L729.0 772.0C728.2 770.8 726.0 768.2 724.0 765.0C722.0 761.8 719.2 757.0 717.0 753.0C714.8 749.0 713.2 745.2 711.0 741.0C708.8 736.8 706.3 732.3 704.0 728.0C701.7 723.7 699.3 719.0 697.0 715.0C694.7 711.0 692.3 707.2 690.0 704.0C687.7 700.8 684.2 697.3 683.0 696.0L683.0 698.4L656.0 698.4L650.0 694.5L644.0 682.5L629.0 679.5L608.0 678.6L549.5 673.5L522.0 652.0Z"/>
</g>
<g clip-path="url(#pinkclip)" fill="#e9e4e0" filter="url(#soft)">
<path d="M20.0 324.0C21.4 283.8 25.8 325.0 28.7 326.0C31.6 327.0 34.4 328.9 37.5 330.0C40.6 331.1 45.2 331.2 47.5 332.5C49.8 333.8 49.9 334.8 51.0 337.5C52.1 340.2 52.1 345.9 54.0 349.0C55.9 352.1 59.0 354.2 62.5 356.0C66.0 357.8 70.8 359.2 75.0 359.5C79.2 359.8 84.6 357.5 87.5 357.5C90.4 357.5 91.1 360.1 92.5 359.5C93.9 358.9 94.8 357.1 96.0 354.0C97.2 350.9 98.5 343.7 100.0 341.0C101.5 338.3 102.1 338.2 105.0 338.0C107.9 337.8 112.9 338.4 117.5 340.0C122.1 341.6 127.9 344.6 132.5 347.5C137.1 350.4 141.2 353.8 145.0 357.5C148.8 361.2 151.7 366.7 155.0 370.0C158.3 373.3 160.8 375.8 165.0 377.5C169.2 379.2 174.2 380.0 180.0 380.0C185.8 380.0 194.6 379.2 200.0 377.5C205.4 375.8 208.3 372.9 212.5 370.0C216.7 367.1 220.8 362.1 225.0 360.0C229.2 357.9 233.3 357.3 237.5 357.5C241.7 357.7 246.2 359.8 250.0 361.0C253.8 362.2 256.7 365.3 260.0 365.0C263.3 364.7 267.3 360.2 270.0 359.0C272.7 357.8 274.5 356.9 276.0 357.5C277.5 358.1 279.6 360.4 279.0 362.5C278.4 364.6 274.8 367.8 272.5 370.0C270.2 372.2 266.3 373.5 265.5 376.0C264.7 378.5 266.9 381.7 267.5 385.0C268.1 388.3 269.9 392.2 269.4 396.0C268.9 399.8 265.6 404.4 264.7 408.0C263.8 411.6 263.8 414.0 263.8 417.4C263.8 420.8 264.7 424.6 264.7 428.6C264.7 432.7 264.4 438.2 263.8 441.7C263.2 445.2 262.4 447.0 261.0 449.8C259.6 452.6 257.3 455.3 255.4 458.6C253.5 461.9 251.9 465.1 249.7 469.8C247.5 474.5 244.9 481.6 242.3 486.6C239.7 491.6 235.9 497.1 234.0 500.0C232.1 502.9 231.8 502.3 231.0 504.0C230.2 505.7 229.8 506.5 229.0 510.0C228.2 513.5 227.4 520.3 226.5 525.0C225.6 529.7 225.1 534.5 223.5 538.0C221.9 541.5 219.2 543.5 217.0 546.0C214.8 548.5 213.1 549.8 210.4 553.0C207.7 556.2 203.8 561.3 201.0 565.0C198.2 568.7 196.3 573.4 193.6 575.0C190.9 576.6 188.1 574.4 185.0 574.5C181.9 574.6 180.8 575.1 175.0 575.5C169.2 575.9 156.7 577.1 150.0 577.0C143.3 576.9 139.2 576.8 135.0 575.0C130.8 573.2 128.3 568.5 125.0 566.0C121.7 563.5 119.2 561.8 115.0 560.0C110.8 558.2 105.0 556.6 100.0 555.0C95.0 553.4 90.0 551.0 85.0 550.5C80.0 550.0 75.8 550.9 70.0 552.0C64.2 553.1 55.5 555.5 50.0 557.0C44.5 558.5 40.7 559.7 37.0 561.0C33.3 562.3 30.8 564.0 28.0 565.0C25.2 566.0 21.3 607.2 20.0 567.0C18.7 526.8 18.6 364.2 20.0 324.0Z"/>
<path d="M130.5 620.5C129.2 620.8 125.5 626.4 125.0 630.0C124.5 633.6 126.7 638.7 127.5 642.0C128.3 645.3 129.2 646.6 130.0 650.0C130.8 653.4 130.8 657.5 132.5 662.5C134.2 667.5 137.1 674.6 140.0 680.0C142.9 685.4 146.8 690.4 150.0 695.0C153.2 699.6 157.8 703.8 159.0 707.5C160.2 711.2 156.5 713.3 157.5 717.5C158.5 721.7 163.6 727.1 165.0 732.5C166.4 737.9 164.3 743.8 166.0 750.0C167.7 756.2 171.8 763.3 175.0 770.0C178.2 776.7 182.1 783.8 185.0 790.0C187.9 796.2 190.0 801.2 192.5 807.5C195.0 813.8 197.9 821.7 200.0 827.5C202.1 833.3 202.9 837.9 205.0 842.5C207.1 847.1 209.6 851.2 212.5 855.0C215.4 858.8 222.1 861.7 222.5 865.0C222.9 868.3 216.2 870.8 215.0 875.0C213.8 879.2 213.3 885.0 215.0 890.0C216.7 895.0 220.8 900.0 225.0 905.0C229.2 910.0 235.0 914.6 240.0 920.0C245.0 925.4 251.5 932.5 255.0 937.5C258.5 942.5 259.8 945.0 261.0 950.0C262.2 955.0 260.6 961.7 262.5 967.5C264.4 973.3 271.2 978.8 272.5 985.0C273.8 991.2 269.6 997.5 270.0 1005.0C270.4 1012.5 273.8 1021.7 275.0 1030.0C276.2 1038.3 276.8 1047.5 277.5 1055.0C278.2 1062.5 256.2 1071.7 279.0 1075.0C301.8 1078.3 392.6 1077.9 414.0 1075.0C435.4 1072.1 409.8 1062.5 407.5 1057.5C405.2 1052.5 403.3 1049.6 400.0 1045.0C396.7 1040.4 392.1 1034.2 387.5 1030.0C382.9 1025.8 377.5 1023.8 372.5 1020.0C367.5 1016.2 362.1 1012.5 357.5 1007.5C352.9 1002.5 347.5 994.6 345.0 990.0C342.5 985.4 343.3 985.8 342.5 980.0C341.7 974.2 341.1 964.2 340.0 955.0C338.9 945.8 338.1 935.4 336.0 925.0C333.9 914.6 331.0 900.4 327.5 892.5C324.0 884.6 319.6 882.1 315.0 877.5C310.4 872.9 303.3 867.5 300.0 865.0C296.7 862.5 297.5 864.6 295.0 862.5C292.5 860.4 287.7 856.2 285.0 852.5C282.3 848.8 279.7 843.8 279.0 840.0C278.3 836.2 281.7 834.2 281.0 830.0C280.3 825.8 277.2 819.2 275.0 815.0C272.8 810.8 269.6 808.7 267.5 805.0C265.4 801.3 264.2 795.9 262.5 793.0C260.8 790.1 259.6 791.3 257.5 787.5C255.4 783.7 252.9 775.8 250.0 770.0C247.1 764.2 243.3 758.3 240.0 752.5C236.7 746.7 232.9 740.4 230.0 735.0C227.1 729.6 225.0 724.6 222.5 720.0C220.0 715.4 217.5 710.3 215.0 707.5C212.5 704.7 210.0 703.8 207.5 703.0C205.0 702.2 201.7 703.4 200.0 702.5C198.3 701.6 197.1 700.8 197.5 697.5C197.9 694.2 200.8 687.9 202.5 682.5C204.2 677.1 206.1 670.6 207.5 665.0C208.9 659.4 210.6 652.0 211.0 649.0C211.4 646.0 210.8 646.0 210.0 647.0C209.2 648.0 207.7 651.2 206.0 655.0C204.3 658.8 202.2 664.6 200.0 670.0C197.8 675.4 194.6 682.1 192.5 687.5C190.4 692.9 189.6 698.3 187.5 702.5C185.4 706.7 182.5 712.1 180.0 712.5C177.5 712.9 175.4 708.3 172.5 705.0C169.6 701.7 166.2 697.5 162.5 692.5C158.8 687.5 152.9 680.4 150.0 675.0C147.1 669.6 147.3 665.0 145.0 660.0C142.7 655.0 138.0 650.3 136.0 645.0C134.0 639.7 133.9 632.1 133.0 628.0C132.1 623.9 131.8 620.2 130.5 620.5Z"/>
<path d="M697.5 213.0C684.3 214.6 711.1 219.5 715.0 222.5C718.9 225.5 721.8 229.3 721.0 231.0C720.2 232.7 713.5 231.8 710.0 232.5C706.5 233.2 702.3 233.3 700.0 235.0C697.7 236.7 696.8 239.2 696.0 242.5C695.2 245.8 695.6 250.8 695.0 255.0C694.4 259.2 694.0 262.9 692.5 267.5C691.0 272.1 687.7 280.2 686.0 282.5C684.3 284.8 683.6 279.3 682.5 281.0C681.4 282.7 679.9 288.1 679.5 292.5C679.1 296.9 679.2 302.5 680.0 307.5C680.8 312.5 681.9 317.9 684.0 322.5C686.1 327.1 689.0 331.9 692.5 335.0C696.0 338.1 700.4 339.3 705.0 341.0C709.6 342.7 715.8 342.7 720.0 345.0C724.2 347.3 726.2 351.7 730.0 355.0C733.8 358.3 737.5 362.5 742.5 365.0C747.5 367.5 754.6 368.8 760.0 370.0C765.4 371.2 770.0 372.5 775.0 372.5C780.0 372.5 784.6 371.4 790.0 370.0C795.4 368.6 801.7 365.8 807.5 364.0C813.3 362.2 819.6 360.1 825.0 359.0C830.4 357.9 836.7 357.5 840.0 357.5C843.3 357.5 844.8 361.1 845.0 359.0C845.2 356.9 842.7 350.7 841.5 345.0C840.3 339.3 839.0 330.8 838.0 325.0C837.0 319.2 836.2 316.7 835.5 310.0C834.8 303.3 834.9 291.2 834.0 285.0C833.1 278.8 832.3 276.0 830.0 272.5C827.7 269.0 823.1 265.3 820.0 264.0C816.9 262.7 813.2 261.7 811.5 264.5C809.8 267.3 810.2 280.4 809.5 281.0C808.8 281.6 807.4 271.5 807.5 268.0C807.6 264.5 809.2 262.6 810.0 260.0C810.8 257.4 810.7 254.0 812.5 252.5C814.3 251.0 820.2 252.9 821.0 251.0C821.8 249.1 818.9 243.2 817.5 241.0C816.1 238.8 814.8 237.8 812.5 237.5C810.2 237.2 806.1 239.0 804.0 239.0C801.9 239.0 801.5 239.4 800.0 237.5C798.5 235.6 796.0 231.6 795.0 227.5C794.0 223.4 810.2 215.4 794.0 213.0C777.8 210.6 710.7 211.4 697.5 213.0Z"/>
<path d="M672.0 634.0C674.3 632.2 684.5 630.2 690.0 629.0C695.5 627.8 699.2 626.3 705.0 627.0C710.8 627.7 719.2 630.0 725.0 633.0C730.8 636.0 735.8 640.9 740.0 645.0C744.2 649.1 747.1 653.3 750.0 657.5C752.9 661.7 754.2 665.4 757.5 670.0C760.8 674.6 766.2 679.6 770.0 685.0C773.8 690.4 775.8 697.5 780.0 702.5C784.2 707.5 790.0 711.4 795.0 715.0C800.0 718.6 805.5 721.3 810.0 724.0C814.5 726.7 817.8 728.6 822.0 731.0C826.2 733.4 830.7 735.9 835.0 738.5C839.3 741.1 843.4 743.9 848.0 746.5C852.6 749.1 858.0 752.1 862.5 754.0C867.0 755.9 870.4 756.8 875.0 758.0C879.6 759.2 884.5 760.2 890.0 761.0C895.5 761.8 902.3 763.5 908.0 763.0C913.7 762.5 918.7 760.5 924.0 758.0C929.3 755.5 934.2 752.1 940.0 748.0C945.8 743.9 953.2 735.9 959.0 733.5C964.8 731.1 970.7 732.2 975.0 733.5C979.3 734.8 982.5 736.6 985.0 741.0C987.5 745.4 989.0 754.2 990.0 760.0C991.0 765.8 992.5 771.8 991.0 776.0C989.5 780.2 980.4 783.0 981.0 785.0C981.6 787.0 989.4 787.3 994.7 788.0C1000.0 788.7 1007.3 788.3 1013.0 789.0C1018.7 789.7 1022.7 791.7 1029.0 792.0C1035.3 792.3 1044.4 790.5 1050.7 790.7C1057.0 790.9 1061.4 792.6 1066.7 793.0C1072.0 793.4 1077.4 793.2 1082.7 793.0C1088.0 792.8 1093.4 792.0 1098.7 792.0C1104.0 792.0 1111.2 793.2 1114.7 793.0C1118.2 792.8 1116.5 790.4 1120.0 790.7C1123.5 791.0 1130.2 793.7 1136.0 794.7C1141.8 795.8 1150.7 797.3 1154.7 797.0C1158.7 796.7 1157.0 793.8 1160.0 793.0C1163.0 792.2 1168.5 792.8 1173.0 792.0C1177.5 791.2 1181.4 789.5 1186.7 788.0C1192.0 786.5 1202.0 735.2 1205.0 783.0C1208.0 830.8 1237.8 1026.3 1205.0 1075.0C1172.2 1123.7 1040.5 1076.0 1008.0 1075.0C975.5 1074.0 1006.3 1071.1 1010.0 1069.0C1013.7 1066.9 1024.8 1064.8 1030.0 1062.5C1035.2 1060.2 1039.8 1059.6 1041.0 1055.0C1042.2 1050.4 1037.7 1041.7 1037.5 1035.0C1037.3 1028.3 1038.8 1020.4 1040.0 1015.0C1041.2 1009.6 1042.9 1006.2 1045.0 1002.5C1047.1 998.8 1050.8 993.1 1052.5 992.5C1054.2 991.9 1052.9 997.9 1055.0 998.7C1057.1 999.5 1062.1 1000.2 1065.0 997.5C1067.9 994.8 1070.0 987.5 1072.5 982.5C1075.0 977.5 1077.1 972.1 1080.0 967.5C1082.9 962.9 1086.7 960.0 1090.0 955.0C1093.3 950.0 1097.3 942.9 1100.0 937.5C1102.7 932.1 1105.2 927.0 1106.0 922.5C1106.8 918.0 1106.7 913.3 1105.0 910.7C1103.3 908.1 1099.7 909.0 1096.0 906.7C1092.3 904.4 1086.7 900.8 1082.7 897.0C1078.7 893.2 1075.6 888.0 1072.0 884.0C1068.4 880.0 1064.5 875.5 1061.0 873.0C1057.5 870.5 1055.7 869.8 1050.7 869.0C1045.7 868.2 1037.3 868.8 1031.0 868.0C1024.7 867.2 1018.7 865.8 1013.0 864.0C1007.3 862.2 1001.3 859.6 997.0 857.0C992.7 854.4 990.0 851.6 987.0 848.5C984.0 845.4 981.0 841.6 978.8 838.5C976.6 835.4 975.1 832.2 973.8 829.6C972.5 827.0 971.7 824.9 971.0 823.0C970.3 821.1 970.1 821.7 969.6 818.0C969.1 814.3 968.1 806.1 968.0 801.0C967.9 795.9 969.0 791.8 968.7 787.5C968.4 783.2 967.3 778.4 966.0 775.0C964.7 771.6 962.8 767.5 961.0 767.0C959.2 766.5 956.5 769.0 955.0 772.0C953.5 775.0 953.5 781.2 952.0 785.0C950.5 788.8 948.3 792.0 946.0 795.0C943.7 798.0 940.7 800.2 938.0 803.0C935.3 805.8 932.7 808.3 930.0 812.0C927.3 815.7 924.8 820.7 922.0 825.0C919.2 829.3 915.7 834.3 913.0 838.0C910.3 841.7 908.7 844.2 906.0 847.0C903.3 849.8 900.5 852.7 897.0 855.0C893.5 857.3 890.0 859.4 885.0 861.0C880.0 862.6 873.7 863.5 866.7 864.5C859.7 865.5 850.8 866.1 843.0 867.0C835.2 867.9 826.2 869.7 820.0 870.0C813.8 870.3 809.8 870.4 806.0 869.0C802.2 867.6 799.3 863.5 797.0 861.5C794.7 859.5 793.3 858.8 792.0 857.0C790.7 855.2 788.8 853.0 789.0 851.0C789.2 849.0 791.7 847.5 793.0 845.0C794.3 842.5 795.8 839.3 797.0 836.0C798.2 832.7 799.5 829.0 800.0 825.0C800.5 821.0 800.5 816.2 800.0 812.0C799.5 807.8 798.2 803.7 797.0 800.0C795.8 796.3 794.5 792.5 793.0 790.0C791.5 787.5 790.0 785.5 788.0 785.0C786.0 784.5 783.2 785.8 781.0 787.0C778.8 788.2 777.0 789.7 775.0 792.5C773.0 795.3 770.4 800.2 769.0 804.0C767.6 807.8 767.4 811.5 766.7 815.0C766.0 818.5 765.0 821.5 765.0 825.0C765.0 828.5 766.2 833.0 767.0 836.0C767.8 839.0 769.8 843.5 769.5 843.0C769.2 842.5 766.9 836.7 765.3 833.3C763.7 829.9 762.0 826.2 760.0 822.7C758.0 819.2 755.8 816.5 753.3 812.0C750.8 807.5 747.5 800.7 745.3 796.0C743.1 791.3 741.7 786.9 740.0 784.0C738.3 781.1 736.8 780.5 735.0 778.5C733.2 776.5 730.8 774.2 729.0 772.0C727.2 769.8 726.0 768.2 724.0 765.0C722.0 761.8 719.2 757.0 717.0 753.0C714.8 749.0 713.2 745.2 711.0 741.0C708.8 736.8 706.3 732.3 704.0 728.0C701.7 723.7 699.3 719.0 697.0 715.0C694.7 711.0 692.3 707.2 690.0 704.0C687.7 700.8 684.7 698.7 683.0 696.0C681.3 693.3 680.8 691.3 680.0 688.0C679.2 684.7 678.5 679.3 678.0 676.0C677.5 672.7 677.5 670.7 677.0 668.0C676.5 665.3 675.8 662.2 675.0 660.0C674.2 657.8 672.2 657.0 672.0 655.0C671.8 653.0 673.0 650.0 674.0 648.0C675.0 646.0 677.7 644.3 678.0 643.0C678.3 641.7 677.0 641.5 676.0 640.0C675.0 638.5 669.7 635.8 672.0 634.0Z"/>
</g>
<g clip-path="url(#pinkclip)" fill="#f8f0eb">
<path d="M754.2 787.0C754.5 786.0 755.8 785.4 756.5 785.5C757.2 785.6 758.2 786.6 758.6 787.5C759.0 788.4 759.0 790.1 758.6 791.0C758.2 791.9 757.2 792.9 756.5 793.0C755.8 793.1 754.9 792.5 754.5 791.5C754.1 790.5 753.9 788.0 754.2 787.0Z"/>
</g>
<g fill="none" stroke="#c2bdb9" stroke-width="1.25" stroke-linejoin="round" stroke-linecap="round">
<path d="M269.4 396.0C270.3 396.4 272.8 399.7 275.0 398.7C277.2 397.7 280.0 392.7 282.5 390.0C285.0 387.3 288.6 385.8 290.0 382.5C291.4 379.2 290.2 373.3 291.0 370.0C291.8 366.7 293.5 363.9 295.0 362.5C296.5 361.1 297.9 360.5 300.0 361.5C302.1 362.5 304.2 367.5 307.5 368.7C310.8 369.9 314.2 369.8 320.0 368.7C325.8 367.6 337.1 362.6 342.5 362.0C347.9 361.4 349.2 363.5 352.5 365.0C355.8 366.5 357.5 369.8 362.5 371.0C367.5 372.2 376.2 372.9 382.5 372.5C388.8 372.1 392.9 370.9 400.0 368.7C407.1 366.5 416.7 361.0 425.0 359.5C433.3 358.0 443.3 360.1 450.0 359.5C456.7 358.9 461.2 357.1 465.0 356.0C468.8 354.9 470.7 352.3 472.5 353.0C474.3 353.7 475.4 358.8 476.0 360.0"/>
<path d="M476.0 360.0C478.3 358.5 486.0 352.5 490.0 351.0C494.0 349.5 496.2 350.3 500.0 351.0C503.8 351.7 508.3 354.2 512.5 355.0C516.7 355.8 521.9 356.2 525.0 356.0C528.1 355.8 529.3 353.4 531.0 353.7C532.7 353.9 534.2 355.4 535.0 357.5C535.8 359.6 533.5 365.8 536.0 366.0C538.5 366.2 547.7 360.2 550.0 359.0"/>
<path d="M550.0 359.0C549.3 356.7 547.7 349.0 546.0 345.0C544.3 341.0 541.8 337.5 540.0 335.0C538.2 332.5 534.8 333.3 535.0 330.0C535.2 326.7 540.6 318.3 541.0 315.0C541.4 311.7 538.3 313.8 537.5 310.0C536.7 306.2 536.8 297.5 536.0 292.5C535.2 287.5 533.5 283.6 532.5 280.0C531.5 276.4 528.8 272.7 530.0 271.0C531.2 269.3 537.7 272.1 540.0 270.0C542.3 267.9 542.5 260.8 543.7 258.7C545.0 256.6 546.9 257.7 547.5 257.5"/>
<path d="M547.5 257.5C545.0 255.6 537.1 248.8 532.5 246.0C527.9 243.2 522.5 243.2 520.0 241.0C517.5 238.8 517.3 235.6 517.5 232.5C517.7 229.4 520.6 225.8 521.0 222.5C521.4 219.2 520.2 214.6 520.0 213.0"/>
<path d="M547.5 257.5C548.3 257.9 550.4 257.9 552.5 260.0C554.6 262.1 557.1 266.7 560.0 270.0C562.9 273.3 566.7 277.3 570.0 280.0C573.3 282.7 576.2 284.2 580.0 286.0C583.8 287.8 589.2 290.2 592.5 291.0C595.8 291.8 597.5 291.2 600.0 291.0C602.5 290.8 606.2 290.2 607.5 290.0"/>
<path d="M549.0 257.5C550.0 257.5 553.0 257.8 555.0 257.5C557.0 257.2 559.3 255.2 561.0 256.0C562.7 256.8 562.7 260.8 565.0 262.5C567.3 264.2 571.9 265.6 575.0 266.0C578.1 266.4 582.0 263.9 583.7 265.0C585.4 266.1 584.0 270.4 585.0 272.5C586.0 274.6 588.5 274.6 590.0 277.5C591.5 280.4 593.1 287.9 593.7 290.0"/>
<path d="M577.5 213.0C576.4 214.3 571.4 218.2 571.0 221.0C570.6 223.8 572.2 227.5 575.0 230.0C577.8 232.5 585.2 233.9 587.5 236.0C589.8 238.1 590.4 240.6 588.7 242.5C587.0 244.4 577.7 245.6 577.5 247.5C577.3 249.4 583.8 251.2 587.5 253.7C591.2 256.2 597.1 259.8 600.0 262.5C602.9 265.2 604.6 267.8 605.0 270.0C605.4 272.2 602.3 273.9 602.5 276.0C602.7 278.1 605.6 280.2 606.0 282.5C606.4 284.8 605.2 288.8 605.0 290.0"/>
<path d="M607.5 290.0C610.4 287.3 618.8 278.9 625.0 273.7C631.2 268.5 640.7 261.4 645.0 258.7C649.3 256.0 648.3 255.8 651.0 257.5C653.7 259.2 660.3 265.4 661.0 268.7C661.7 272.0 655.2 275.0 655.0 277.5C654.8 280.0 660.4 281.6 660.0 283.7C659.6 285.8 652.1 287.5 652.5 290.0C652.9 292.5 659.2 295.6 662.5 298.7C665.8 301.8 669.6 307.5 672.5 308.7C675.4 309.9 678.8 306.4 680.0 306.0"/>
<path d="M840.0 339.0C841.7 338.9 846.2 339.8 850.0 338.7C853.8 337.6 859.4 335.0 862.5 332.5C865.6 330.0 866.6 327.0 868.7 323.7C870.8 320.4 871.9 315.8 875.0 312.5C878.1 309.2 883.3 305.4 887.5 303.7C891.7 302.0 896.1 302.9 900.0 302.5C903.9 302.1 908.7 302.2 911.0 301.0C913.3 299.8 911.4 296.4 913.7 295.0C916.0 293.6 920.6 292.9 925.0 292.5C929.4 292.1 936.5 291.1 940.0 292.5C943.5 293.9 941.8 299.1 946.0 301.0C950.2 302.9 959.3 302.2 965.0 303.7C970.7 305.2 976.2 309.4 980.0 310.0C983.8 310.6 982.5 306.8 987.5 307.0C992.5 307.2 1005.4 309.1 1010.0 311.0C1014.6 312.9 1010.8 315.9 1015.0 318.7C1019.2 321.4 1029.4 323.9 1035.0 327.5C1040.6 331.1 1042.0 338.6 1048.7 340.0C1055.4 341.4 1070.0 334.3 1075.0 336.0C1080.0 337.7 1077.5 345.6 1078.7 350.0C1080.0 354.4 1081.3 358.3 1082.5 362.5C1083.7 366.7 1085.4 372.9 1086.0 375.0"/>
<path d="M1086.0 375.0C1086.0 378.3 1086.6 389.6 1086.0 395.0C1085.4 400.4 1082.7 404.2 1082.5 407.5C1082.3 410.8 1086.2 412.5 1085.0 415.0C1083.8 417.5 1075.4 420.0 1075.0 422.5C1074.6 425.0 1082.9 428.1 1082.5 430.0C1082.1 431.9 1074.6 431.6 1072.5 433.7C1070.4 435.8 1069.6 438.5 1070.0 442.5C1070.4 446.5 1072.1 454.4 1075.0 457.5C1077.9 460.6 1086.9 457.7 1087.5 461.0C1088.1 464.3 1077.9 468.9 1078.7 477.5C1079.5 486.1 1089.4 501.7 1092.5 512.5C1095.6 523.3 1091.7 537.3 1097.5 542.5C1103.3 547.7 1121.2 541.6 1127.5 543.7C1133.8 545.8 1134.0 551.5 1135.0 555.0C1136.0 558.5 1138.1 556.0 1133.7 565.0C1129.3 574.0 1112.9 601.4 1108.7 608.7"/>
<path d="M1108.7 608.7L1165.0 618.7L1205.0 609.0"/>
<path d="M1108.7 608.7C1110.2 609.8 1114.0 611.0 1117.5 615.0C1121.0 619.0 1126.7 627.5 1130.0 632.5C1133.3 637.5 1134.2 641.7 1137.5 645.0C1140.8 648.3 1143.8 650.0 1150.0 652.5C1156.2 655.0 1169.2 657.9 1175.0 660.0C1180.8 662.1 1182.9 661.2 1185.0 665.0C1187.1 668.8 1186.2 676.2 1187.5 682.5C1188.8 688.8 1189.9 698.6 1192.5 702.5C1195.1 706.4 1201.2 701.6 1203.0 706.0C1204.8 710.4 1206.0 724.2 1203.0 729.0C1200.0 733.8 1190.1 732.8 1185.0 735.0C1179.9 737.2 1176.0 739.6 1172.5 742.5C1169.0 745.4 1166.1 747.9 1164.0 752.5C1161.9 757.1 1160.8 764.2 1160.0 770.0C1159.2 775.8 1159.3 783.3 1159.0 787.5C1158.7 791.7 1158.2 793.8 1158.0 795.0"/>
<path d="M1086.0 375.0C1088.3 376.0 1095.6 380.2 1100.0 381.0C1104.4 381.8 1108.8 378.9 1112.5 380.0C1116.2 381.1 1120.4 386.9 1122.5 387.5C1124.6 388.1 1122.1 385.4 1125.0 383.7C1127.9 382.0 1136.5 380.2 1140.0 377.5C1143.5 374.8 1145.2 370.8 1146.0 367.5C1146.8 364.2 1141.0 361.2 1145.0 357.5C1149.0 353.8 1165.0 348.1 1170.0 345.0C1175.0 341.9 1172.5 341.6 1175.0 338.7C1177.5 335.8 1182.9 332.3 1185.0 327.5C1187.1 322.7 1186.7 315.8 1187.5 310.0C1188.3 304.2 1187.1 296.8 1190.0 292.5C1192.9 288.2 1202.5 285.4 1205.0 284.0"/>
<path d="M1130.0 213.0L1155.0 223.7L1205.0 243.0"/>
<path d="M476.0 360.0C475.4 360.4 474.3 360.4 472.5 362.5C470.7 364.6 467.9 369.6 465.0 372.5C462.1 375.4 458.3 378.1 455.0 380.0C451.7 381.9 447.3 382.0 445.0 383.7C442.7 385.4 441.8 386.9 441.0 390.0C440.2 393.1 439.8 398.3 440.0 402.5C440.2 406.7 442.5 411.2 442.5 415.0C442.5 418.8 440.8 422.5 440.0 425.0C439.2 427.5 438.2 425.8 437.5 430.0C436.8 434.2 437.2 444.6 436.0 450.0C434.8 455.4 432.2 459.6 430.0 462.5C427.8 465.4 427.5 464.6 422.5 467.5C417.5 470.4 407.9 475.8 400.0 480.0C392.1 484.2 382.1 488.8 375.0 492.5C367.9 496.2 360.7 498.3 357.5 502.5C354.3 506.7 356.2 515.0 356.0 517.5"/>
<path d="M356.0 517.5L360.0 537.5L359.0 542.5L367.5 545.0L369.0 548.7L365.0 553.0"/>
<path d="M356.0 517.5L332.5 515.0L313.3 524.0L290.0 531.0L270.0 537.0L255.0 533.0L246.0 527.0L243.5 521.0"/>
<path d="M365.0 553.0L405.0 562.5L460.0 597.5L520.0 650.0L549.5 673.5L608.0 678.6L629.0 679.5"/>
<path d="M629.0 679.5L644.0 682.5L650.0 694.5L656.0 698.4L683.0 698.4"/>
<path d="M629.0 679.5C629.1 674.6 628.6 656.6 629.6 650.0C630.6 643.4 631.4 642.2 635.0 640.0C638.6 637.8 646.7 638.0 651.5 637.0C656.3 636.0 660.6 634.5 664.0 634.0C667.4 633.5 670.7 634.0 672.0 634.0"/>
<path d="M550.0 359.0C550.8 360.8 553.3 365.7 555.0 370.0C556.7 374.3 557.5 380.0 560.0 385.0C562.5 390.0 567.5 396.2 570.0 400.0C572.5 403.8 572.9 405.4 575.0 407.5C577.1 409.6 578.3 411.6 582.5 412.5C586.7 413.4 596.8 412.4 600.0 413.0C603.2 413.6 603.2 415.2 602.0 416.0C600.8 416.8 595.0 416.5 593.0 418.0C591.0 419.5 589.7 421.8 590.0 425.0C590.3 428.2 595.8 432.9 595.0 437.5C594.2 442.1 587.9 448.3 585.0 452.5C582.1 456.7 579.2 459.2 577.5 462.5C575.8 465.8 575.6 469.0 575.0 472.5C574.4 476.0 572.5 479.9 573.7 483.7C575.0 487.4 580.2 491.4 582.5 495.0C584.8 498.6 585.4 501.7 587.5 505.0C589.6 508.3 593.5 511.9 595.0 515.0C596.5 518.1 595.4 521.9 596.2 523.7C597.0 525.5 596.9 524.5 600.0 526.0C603.1 527.5 610.0 529.5 615.0 532.5C620.0 535.5 625.8 541.5 630.0 543.7C634.2 546.0 636.7 542.9 640.0 546.0C643.3 549.1 647.5 558.1 650.0 562.5C652.5 566.9 654.4 569.6 655.0 572.5C655.6 575.4 654.2 575.4 653.7 580.0C653.2 584.6 652.0 594.2 652.0 600.0C652.0 605.8 652.3 610.7 654.0 615.0C655.7 619.3 659.0 622.8 662.0 626.0C665.0 629.2 670.3 632.7 672.0 634.0"/>
<path d="M365.0 553.0L289.0 573.0L320.0 614.5L307.7 623.3L302.5 631.5L277.0 636.7L265.8 650.2L249.3 661.4L212.0 651.7L210.5 648.0"/>
<path d="M193.6 575.0L200.0 592.5L205.0 615.0L210.5 648.0"/>
<path d="M210.5 648.0C211.0 647.4 212.2 647.3 213.4 644.3C214.6 641.3 216.1 634.8 217.5 630.0C218.9 625.2 220.0 620.5 221.6 615.8C223.2 611.1 225.2 606.2 227.0 602.0C228.8 597.8 230.9 593.6 232.1 590.4C233.3 587.2 233.8 585.6 234.4 582.9C235.1 580.2 235.5 577.0 236.0 574.0C236.5 571.0 236.7 569.2 237.4 564.9C238.1 560.6 239.5 552.9 240.4 548.4C241.3 543.9 242.4 541.1 243.0 538.0C243.6 534.9 243.9 532.8 244.0 530.0C244.1 527.2 243.6 522.5 243.5 521.0"/>
<path d="M243.5 521.0L245.0 512.0L247.0 504.0L244.0 500.0L238.0 503.0L231.0 504.0"/>
<path d="M261.0 449.8C261.5 449.6 262.4 449.0 263.8 448.3C265.2 447.6 267.1 446.4 269.4 445.9C271.7 445.4 276.1 445.1 277.8 445.5C279.5 445.9 279.7 447.1 279.7 448.3C279.7 449.6 277.3 451.6 277.8 453.0C278.3 454.4 281.6 454.8 282.5 456.7C283.4 458.6 283.9 462.0 283.4 464.2C282.9 466.4 281.3 468.2 279.7 469.8C278.1 471.4 274.8 472.2 274.0 473.5C273.2 474.8 276.1 476.4 275.0 477.3C273.9 478.2 269.4 477.9 267.5 479.2C265.6 480.4 264.7 482.9 263.8 484.8C262.9 486.7 263.2 488.7 261.9 490.4C260.6 492.1 257.8 493.6 256.0 495.0C254.2 496.4 252.5 497.5 251.0 499.0C249.5 500.5 247.7 503.2 247.0 504.0"/>
<path d="M20.0 931.0L28.7 932.0L50.0 934.5L54.0 929.0L57.5 926.0L60.0 929.0L59.0 935.0L260.0 949.5"/>
<path d="M971.0 823.0C969.2 824.7 962.3 831.9 960.0 833.0C957.7 834.1 957.8 830.9 957.0 829.6C956.2 828.3 956.0 825.8 955.0 825.0C954.0 824.2 952.1 824.2 951.0 825.0C949.9 825.8 948.5 827.1 948.5 829.6C948.5 832.1 950.8 836.1 951.0 839.7C951.2 843.4 949.3 849.0 950.0 851.5C950.7 854.0 953.8 853.9 955.0 855.0C956.2 856.1 957.5 856.9 957.0 858.0C956.5 859.1 954.5 860.1 952.0 861.6C949.5 863.1 943.8 863.6 941.8 866.7C939.8 869.8 941.3 873.6 940.0 880.0C938.7 886.4 935.5 898.4 934.0 905.0C932.5 911.6 931.5 917.1 931.0 919.5"/>
<path d="M931.0 919.5L900.0 917.0L836.0 913.0L800.0 867.5L796.0 860.0"/>
<path d="M931.0 919.5L951.0 942.5L932.5 1025.0L900.0 1038.7L820.0 1075.0"/>
<path d="M769.5 843.0L772.0 848.0L776.0 850.7L785.3 849.3L789.0 851.0"/>
<path d="M963.5 811.6 L964.8 810.3 L966.1 811.6 L964.8 812.9Z"/>
<path d="M574.0 222.0 L575.0 221.0 L576.0 222.0 L575.0 223.0Z"/>
</g>
<g fill="none" stroke="#c2bdb9" stroke-width="1" stroke-dasharray="2 2.5">
<path d="M164.6 416.5 L175.0 415.5 L184.3 416.5 L186.0 422.0 L202.0 422.7"/>
<path d="M231.0 527.8 L238.5 529.7 L242.0 535.0"/>
<path d="M241.0 552.0 L232.0 553.0 L225.4 555.9 L227.3 563.4 L221.7 569.0 L218.0 574.6 L225.0 577.0 L236.0 574.0"/>
<path d="M195.5 572.7 L201.0 567.0"/>
</g>
</g>
<text y="250" font-size="22.8" font-weight="normal" fill="#909090"><tspan x="48.77" textLength="40.92" lengthAdjust="spacingAndGlyphs">250</tspan> <tspan x="96.39" textLength="55.78" lengthAdjust="spacingAndGlyphs">miles</tspan></text>
<line x1="49.5" x2="196.3" y1="261" y2="261" stroke="#ababab" stroke-width="1.4"/>
<line x1="49.5" x2="141.5" y1="270" y2="270" stroke="#ababab" stroke-width="1.4"/>
<text y="295" font-size="22.8" font-weight="normal" fill="#909090"><tspan x="48.77" textLength="40.92" lengthAdjust="spacingAndGlyphs">250</tspan> <tspan x="96.24" textLength="34.77" lengthAdjust="spacingAndGlyphs">km</tspan></text>
<g stroke="#5a5a5a" stroke-width="1.2" fill="none">
<path d="M657 685H670.8"/>
<path d="M757 793.8V823.8"/>
<path d="M776.3 836.3V869.5"/>
</g>
<g stroke="#8e8e8e" stroke-width="1.2" fill="none">
<path d="M217.5 533V541"/>
<path d="M254.3 548V556"/>
<path d="M660.5 657V665"/>
<path d="M618.7 826V835"/>
<path d="M727.7 764V772"/>
<path d="M795 808V817"/>
<path d="M906.8 834V843"/>
<path d="M930.5 801V808"/>
<path d="M342.6 952V960"/>
<path d="M367.8 839V847"/>
<path d="M952.5 796V809H936"/>
</g>
<rect x="213.0" y="541.0" width="9.0" height="8.200000000000045" fill="#dedede" fill-opacity="0.85" stroke="#a3a3a3" stroke-width="1"/>
<rect x="250.0" y="556.2" width="8.699999999999989" height="8.299999999999955" fill="#dedede" fill-opacity="0.85" stroke="#a3a3a3" stroke-width="1"/>
<rect x="656.0" y="665.5" width="9.0" height="8.299999999999955" fill="#dedede" fill-opacity="0.85" stroke="#a3a3a3" stroke-width="1"/>
<rect x="614.2" y="834.7" width="9.099999999999909" height="8.599999999999909" fill="#dedede" fill-opacity="0.85" stroke="#a3a3a3" stroke-width="1"/>
<rect x="723.5" y="772.5" width="8.600000000000023" height="8.299999999999955" fill="#dedede" fill-opacity="0.85" stroke="#a3a3a3" stroke-width="1"/>
<rect x="790.5" y="816.7" width="9" height="8.399999999999977" fill="#dedede" fill-opacity="0.85" stroke="#a3a3a3" stroke-width="1"/>
<rect x="902.5" y="843.0" width="8.799999999999955" height="9.0" fill="#dedede" fill-opacity="0.85" stroke="#a3a3a3" stroke-width="1"/>
<rect x="927.1" y="804.7" width="8.5" height="8.5" fill="#dedede" fill-opacity="0.85" stroke="#a3a3a3" stroke-width="1"/>
<rect x="925.4" y="808.7" width="8.700000000000045" height="9.099999999999909" fill="#dedede" fill-opacity="0.85" stroke="#a3a3a3" stroke-width="1"/>
<rect x="338.0" y="960.5" width="9.0" height="8.5" fill="#dedede" fill-opacity="0.85" stroke="#a3a3a3" stroke-width="1"/>
<rect x="363.0" y="847.5" width="9.0" height="8.799999999999955" fill="#dedede" fill-opacity="0.85" stroke="#a3a3a3" stroke-width="1"/>
<rect x="208.55" y="436.05" width="17.899999999999977" height="97.19999999999996" fill="#fbe2d5"/>
<rect x="208.55" y="444.5" width="17.899999999999977" height="88.74999999999996" fill="#f39a07"/>
<line x1="208.55" x2="226.45" y1="444.5" y2="444.5" stroke="#bb8326" stroke-width="1.1"/>
<rect x="208.55" y="436.05" width="17.899999999999977" height="97.19999999999996" fill="none" stroke="#bb8326" stroke-width="1.1"/>
<rect x="245.55" y="491.25" width="17.19999999999999" height="56.999999999999964" fill="#fbe2d5"/>
<rect x="245.55" y="511.3" width="17.19999999999999" height="36.949999999999946" fill="#f39a07"/>
<line x1="245.55" x2="262.75" y1="511.3" y2="511.3" stroke="#bb8326" stroke-width="1.1"/>
<rect x="245.55" y="491.25" width="17.19999999999999" height="56.999999999999964" fill="none" stroke="#bb8326" stroke-width="1.1"/>
<rect x="651.75" y="579.8499999999999" width="17.700000000000045" height="77.10000000000005" fill="#fbe2d5"/>
<rect x="651.75" y="583" width="17.700000000000045" height="73.95" fill="#f39a07"/>
<line x1="651.75" x2="669.45" y1="583" y2="583" stroke="#bb8326" stroke-width="1.1"/>
<rect x="651.75" y="579.8499999999999" width="17.700000000000045" height="77.10000000000005" fill="none" stroke="#bb8326" stroke-width="1.1"/>
<rect x="610.05" y="648.05" width="17.40000000000009" height="178.4" fill="#fbe2d5"/>
<rect x="610.05" y="781.3" width="17.40000000000009" height="45.15000000000005" fill="#f39a07"/>
<line x1="610.05" x2="627.45" y1="781.3" y2="781.3" stroke="#bb8326" stroke-width="1.1"/>
<rect x="610.05" y="648.05" width="17.40000000000009" height="178.4" fill="none" stroke="#bb8326" stroke-width="1.1"/>
<rect x="718.75" y="697.55" width="17.700000000000045" height="66.9" fill="#fbe2d5"/>
<rect x="718.75" y="727.5" width="17.700000000000045" height="36.95" fill="#f39a07"/>
<line x1="718.75" x2="736.45" y1="727.5" y2="727.5" stroke="#bb8326" stroke-width="1.1"/>
<rect x="718.75" y="697.55" width="17.700000000000045" height="66.9" fill="none" stroke="#bb8326" stroke-width="1.1"/>
<rect x="786.25" y="621.05" width="17.700000000000045" height="187.69999999999996" fill="#fbe2d5"/>
<rect x="786.25" y="630" width="17.700000000000045" height="178.74999999999994" fill="#f39a07"/>
<line x1="786.25" x2="803.95" y1="630" y2="630" stroke="#bb8326" stroke-width="1.1"/>
<rect x="786.25" y="621.05" width="17.700000000000045" height="187.69999999999996" fill="none" stroke="#bb8326" stroke-width="1.1"/>
<rect x="897.75" y="706.55" width="17.800000000000068" height="128.4" fill="#fbe2d5"/>
<rect x="897.75" y="719.5" width="17.800000000000068" height="115.45" fill="#f39a07"/>
<line x1="897.75" x2="915.5500000000001" y1="719.5" y2="719.5" stroke="#bb8326" stroke-width="1.1"/>
<rect x="897.75" y="706.55" width="17.800000000000068" height="128.4" fill="none" stroke="#bb8326" stroke-width="1.1"/>
<rect x="921.15" y="504.25" width="18.100000000000023" height="296.99999999999994" fill="#fbe2d5"/>
<rect x="921.15" y="532.5" width="18.100000000000023" height="268.74999999999994" fill="#f39a07"/>
<line x1="921.15" x2="939.25" y1="532.5" y2="532.5" stroke="#bb8326" stroke-width="1.1"/>
<rect x="921.15" y="504.25" width="18.100000000000023" height="296.99999999999994" fill="none" stroke="#bb8326" stroke-width="1.1"/>
<rect x="943.55" y="708.9499999999999" width="17.800000000000068" height="88.00000000000003" fill="#fbe2d5"/>
<rect x="943.55" y="716.2" width="17.800000000000068" height="80.74999999999996" fill="#f39a07"/>
<line x1="943.55" x2="961.35" y1="716.2" y2="716.2" stroke="#bb8326" stroke-width="1.1"/>
<rect x="943.55" y="708.9499999999999" width="17.800000000000068" height="88.00000000000003" fill="none" stroke="#bb8326" stroke-width="1.1"/>
<rect x="333.75" y="703.05" width="17.69999999999999" height="248.9" fill="#fbe2d5"/>
<rect x="333.75" y="887.5" width="17.69999999999999" height="64.45" fill="#f39a07"/>
<line x1="333.75" x2="351.45" y1="887.5" y2="887.5" stroke="#bb8326" stroke-width="1.1"/>
<rect x="333.75" y="703.05" width="17.69999999999999" height="248.9" fill="none" stroke="#bb8326" stroke-width="1.1"/>
<rect x="359.25" y="782.25" width="17.19999999999999" height="57.19999999999995" fill="#fbe2d5"/>
<rect x="359.25" y="820" width="17.19999999999999" height="19.45" fill="#f39a07"/>
<line x1="359.25" x2="376.45" y1="820" y2="820" stroke="#bb8326" stroke-width="1.1"/>
<rect x="359.25" y="782.25" width="17.19999999999999" height="57.19999999999995" fill="none" stroke="#bb8326" stroke-width="1.1"/>
<text x="313.93" y="455.7" textLength="75.10" lengthAdjust="spacing" font-size="23.8" font-weight="normal" fill="#24272c" stroke="#24272c" stroke-width="1.0" stroke-linejoin="miter" filter="url(#halo)">SYRIA</text>
<text x="468.30" y="523" textLength="62.83" lengthAdjust="spacing" font-size="23.8" font-weight="normal" fill="#24272c" stroke="#24272c" stroke-width="1.0" stroke-linejoin="miter" filter="url(#halo)">IRAQ</text>
<text x="108.30" y="555" textLength="92.53" lengthAdjust="spacing" font-size="23.8" font-weight="normal" fill="#24272c" stroke="#24272c" stroke-width="1.0" stroke-linejoin="miter" filter="url(#halo)">ISRAEL</text>
<text x="217.14" y="609.7" textLength="108.59" lengthAdjust="spacing" font-size="23.8" font-weight="normal" fill="#24272c" stroke="#24272c" stroke-width="1.0" stroke-linejoin="miter" filter="url(#halo)">JORDAN</text>
<text x="812.37" y="491.2" textLength="79.44" lengthAdjust="spacing" font-size="30.1" font-weight="normal" fill="#24272c" stroke="#24272c" stroke-width="1.3" stroke-linejoin="miter" filter="url(#halo)">IRAN</text>
<text x="671.74" y="691.2" textLength="101.34" lengthAdjust="spacing" font-size="23.8" font-weight="normal" fill="#24272c" stroke="#24272c" stroke-width="1.0" stroke-linejoin="miter" filter="url(#halo)">KUWAIT</text>
<text x="647.24" y="845" textLength="117.94" lengthAdjust="spacing" font-size="23.8" font-weight="normal" fill="#24272c" stroke="#24272c" stroke-width="1.0" stroke-linejoin="miter" filter="url(#halo)">BAHRAIN</text>
<text x="699.87" y="895.5" textLength="86.24" lengthAdjust="spacing" font-size="23.8" font-weight="normal" fill="#24272c" stroke="#24272c" stroke-width="1.0" stroke-linejoin="miter" filter="url(#halo)">QATAR</text>
<text x="813.66" y="887" textLength="52.32" lengthAdjust="spacing" font-size="23.8" font-weight="normal" fill="#24272c" stroke="#24272c" stroke-width="1.0" stroke-linejoin="miter" filter="url(#halo)">UAE</text>
<text x="536.93" y="943.7" textLength="79.30" lengthAdjust="spacing" font-size="23.8" font-weight="normal" fill="#24272c" stroke="#24272c" stroke-width="1.0" stroke-linejoin="miter" filter="url(#halo)">SAUDI</text>
<text x="528.44" y="972.5" textLength="95.63" lengthAdjust="spacing" font-size="23.8" font-weight="normal" fill="#24272c" stroke="#24272c" stroke-width="1.0" stroke-linejoin="miter" filter="url(#halo)">ARABIA</text>
<text y="499.5" font-size="23.6" font-weight="normal" fill="#5d6670" filter="url(#halo)"><tspan x="78.50" textLength="43.12" lengthAdjust="spacingAndGlyphs">Ben</tspan> <tspan x="127.56" textLength="71.53" lengthAdjust="spacingAndGlyphs">Gurion</tspan></text>
<text x="149.14" y="525.5" textLength="49.01" lengthAdjust="spacingAndGlyphs" font-size="24.5" font-weight="bold" fill="#f0920a" filter="url(#halo)">90%</text>
<text y="513.7" font-size="23.6" font-weight="normal" fill="#5d6670" filter="url(#halo)"><tspan x="268.38" textLength="70.65" lengthAdjust="spacingAndGlyphs">Queen</tspan> <tspan x="344.94" textLength="38.06" lengthAdjust="spacingAndGlyphs">Alia</tspan></text>
<text x="267.79" y="539.5" textLength="48.35" lengthAdjust="spacingAndGlyphs" font-size="24.5" font-weight="bold" fill="#f0920a" filter="url(#halo)">60%</text>
<text x="674.22" y="623.2" textLength="72.20" lengthAdjust="spacingAndGlyphs" font-size="23.6" font-weight="normal" fill="#5d6670" filter="url(#halo)">Kuwait</text>
<text x="674.85" y="648" textLength="48.80" lengthAdjust="spacingAndGlyphs" font-size="24.5" font-weight="bold" fill="#f0920a" filter="url(#halo)">94%</text>
<text y="727.5" font-size="23.6" font-weight="normal" fill="#5d6670" filter="url(#halo)"><tspan x="480.50" textLength="48.55" lengthAdjust="spacingAndGlyphs">King</tspan> <tspan x="534.21" textLength="68.59" lengthAdjust="spacingAndGlyphs">Khalid</tspan></text>
<text x="552.84" y="753.5" textLength="49.01" lengthAdjust="spacingAndGlyphs" font-size="24.5" font-weight="bold" fill="#f0920a" filter="url(#halo)">23%</text>
<text x="657.95" y="723.7" textLength="49.85" lengthAdjust="spacingAndGlyphs" font-size="23.6" font-weight="normal" fill="#5d6670" filter="url(#halo)">King</text>
<text x="653.02" y="748.7" textLength="54.73" lengthAdjust="spacingAndGlyphs" font-size="23.6" font-weight="normal" fill="#5d6670" filter="url(#halo)">Fahd</text>
<text x="657.19" y="775" textLength="49.66" lengthAdjust="spacingAndGlyphs" font-size="24.5" font-weight="bold" fill="#f0920a" filter="url(#halo)">50%</text>
<text x="807.98" y="693" textLength="79.09" lengthAdjust="spacingAndGlyphs" font-size="23.6" font-weight="normal" fill="#5d6670" filter="url(#halo)">Hamad</text>
<text x="808.63" y="718.5" textLength="49.52" lengthAdjust="spacingAndGlyphs" font-size="24.5" font-weight="bold" fill="#f0920a" filter="url(#halo)">94%</text>
<text x="849.94" y="773.7" textLength="42.87" lengthAdjust="spacingAndGlyphs" font-size="23.6" font-weight="normal" fill="#5d6670" filter="url(#halo)">Abu</text>
<text x="828.47" y="798.7" textLength="64.41" lengthAdjust="spacingAndGlyphs" font-size="23.6" font-weight="normal" fill="#5d6670" filter="url(#halo)">Dhabi</text>
<text x="841.18" y="824.2" textLength="50.69" lengthAdjust="spacingAndGlyphs" font-size="24.5" font-weight="bold" fill="#f0920a" filter="url(#halo)">89%</text>
<text x="943.49" y="587.5" textLength="63.66" lengthAdjust="spacingAndGlyphs" font-size="23.6" font-weight="normal" fill="#5d6670" filter="url(#halo)">Dubai</text>
<text x="944.20" y="613" textLength="49.46" lengthAdjust="spacingAndGlyphs" font-size="24.5" font-weight="bold" fill="#f0920a" filter="url(#halo)">85%</text>
<text x="967.62" y="755" textLength="82.68" lengthAdjust="spacingAndGlyphs" font-size="23.6" font-weight="normal" fill="#5d6670" filter="url(#halo)">Sharjah</text>
<text x="967.84" y="781.2" textLength="49.01" lengthAdjust="spacingAndGlyphs" font-size="24.5" font-weight="bold" fill="#f0920a" filter="url(#halo)">90%</text>
<text y="805" font-size="23.6" font-weight="normal" fill="#5d6670" filter="url(#halo)"><tspan x="380.52" textLength="68.05" lengthAdjust="spacingAndGlyphs">Prince</tspan> <tspan x="454.21" textLength="130.60" lengthAdjust="spacingAndGlyphs">Mohammad</tspan></text>
<text y="830" font-size="23.6" font-weight="normal" fill="#5d6670" filter="url(#halo)"><tspan x="380.88" textLength="33.29" lengthAdjust="spacingAndGlyphs">bin</tspan> <tspan x="421.19" textLength="103.22" lengthAdjust="spacingAndGlyphs">Abdulaziz</tspan></text>
<text x="381.18" y="856.7" textLength="46.94" lengthAdjust="spacingAndGlyphs" font-size="24.5" font-weight="bold" fill="#f0920a" filter="url(#halo)">27%</text>
<text y="917" font-size="23.6" font-weight="normal" fill="#5d6670" filter="url(#halo)"><tspan x="165.97" textLength="49.36" lengthAdjust="spacingAndGlyphs">King</tspan> <tspan x="221.19" textLength="103.73" lengthAdjust="spacingAndGlyphs">Abdulaziz</tspan></text>
<text x="275.34" y="942.5" textLength="49.01" lengthAdjust="spacingAndGlyphs" font-size="24.5" font-weight="bold" fill="#f0920a" filter="url(#halo)">24%</text>
<text y="33.7" font-size="36.5" font-weight="bold" fill="#262626"><tspan x="27.96" textLength="102.56" lengthAdjust="spacingAndGlyphs">Flight</tspan> <tspan x="142.69" textLength="247.67" lengthAdjust="spacingAndGlyphs">cancellations</tspan> <tspan x="400.70" textLength="38.67" lengthAdjust="spacingAndGlyphs">at</tspan> <tspan x="450.46" textLength="106.30" lengthAdjust="spacingAndGlyphs">major</tspan> <tspan x="567.56" textLength="125.42" lengthAdjust="spacingAndGlyphs">airport</tspan> <tspan x="704.85" textLength="90.46" lengthAdjust="spacingAndGlyphs">hubs</tspan> <tspan x="805.91" textLength="36.08" lengthAdjust="spacingAndGlyphs">in</tspan> <tspan x="853.25" textLength="60.57" lengthAdjust="spacingAndGlyphs">the</tspan> <tspan x="924.80" textLength="126.56" lengthAdjust="spacingAndGlyphs">Middle</tspan> <tspan x="1061.12" textLength="82.36" lengthAdjust="spacingAndGlyphs">East</tspan></text>
<text y="82.9" font-size="32" font-weight="normal" fill="#303030"><tspan x="27.34" textLength="75.28" lengthAdjust="spacingAndGlyphs">From</tspan> <tspan x="108.65" textLength="125.89" lengthAdjust="spacingAndGlyphs">February</tspan> <tspan x="244.59" textLength="36.90" lengthAdjust="spacingAndGlyphs">28</tspan> <tspan x="290.78" textLength="26.33" lengthAdjust="spacingAndGlyphs">to</tspan> <tspan x="323.93" textLength="93.28" lengthAdjust="spacingAndGlyphs">March</tspan> <tspan x="424.49" textLength="18.15" lengthAdjust="spacingAndGlyphs">5</tspan></text>
<text x="102.71" y="148.8" textLength="55.77" lengthAdjust="spacingAndGlyphs" font-size="24.9" font-weight="normal" fill="#6c6c6c">Total</text>
<text x="35.26" y="174.6" textLength="123.18" lengthAdjust="spacingAndGlyphs" font-size="24.9" font-weight="normal" fill="#6c6c6c">scheduled</text>
<text x="87.90" y="200" textLength="69.73" lengthAdjust="spacingAndGlyphs" font-size="24.9" font-weight="normal" fill="#6c6c6c">flights</text>
<g fill="none" stroke="#d2d2d2" stroke-width="1.2">
<path d="M200 123.3H185V205H200"/><path d="M170 164.3H185"/>
<path d="M226.7 171H241.7V205H226.7"/><path d="M241.7 188.3H255"/>
</g>
<rect x="204.3" y="123.7" width="17.4" height="81.3" fill="#fbe2d5"/>
<rect x="204.3" y="170" width="17.4" height="35" fill="#f39a07"/>
<rect x="204.2" y="123.6" width="17.6" height="81.5" fill="none" stroke="#ef950f" stroke-width="1.9"/>
<text x="264.16" y="176.9" textLength="79.51" lengthAdjust="spacingAndGlyphs" font-size="22.8" font-weight="bold" fill="#f0920a">Flights</text>
<text x="265.99" y="201.6" textLength="114.97" lengthAdjust="spacingAndGlyphs" font-size="22.8" font-weight="bold" fill="#f0920a">cancelled</text>
<rect x="433.2" y="125.5" width="9" height="9" fill="#e0e0e0" stroke="#a0a0a0" stroke-width="1.2"/>
<text y="136.7" font-size="24.9" font-weight="normal" fill="#6c6c6c"><tspan x="454.84" textLength="65.57" lengthAdjust="spacingAndGlyphs">Major</tspan> <tspan x="528.33" textLength="77.86" lengthAdjust="spacingAndGlyphs">airport</tspan></text>
<rect x="426.7" y="156.7" width="21.6" height="47.6" fill="#fbe2d7"/>
<text y="175.2" font-size="24.9" font-weight="normal" fill="#6c6c6c"><tspan x="456.63" textLength="101.19" lengthAdjust="spacingAndGlyphs">Airspace</tspan> <tspan x="566.29" textLength="45.63" lengthAdjust="spacingAndGlyphs">that</tspan> <tspan x="618.95" textLength="40.22" lengthAdjust="spacingAndGlyphs">has</tspan> <tspan x="667.92" textLength="45.47" lengthAdjust="spacingAndGlyphs">fully</tspan> <tspan x="722.19" textLength="23.25" lengthAdjust="spacingAndGlyphs">or</tspan></text>
<text y="200.2" font-size="24.9" font-weight="normal" fill="#6c6c6c"><tspan x="455.00" textLength="90.09" lengthAdjust="spacingAndGlyphs">partially</tspan> <tspan x="553.86" textLength="77.85" lengthAdjust="spacingAndGlyphs">closed</tspan> <tspan x="639.29" textLength="60.16" lengthAdjust="spacingAndGlyphs">since</tspan> <tspan x="706.19" textLength="51.14" lengthAdjust="spacingAndGlyphs">Feb.</tspan> <tspan x="766.94" textLength="30.28" lengthAdjust="spacingAndGlyphs">28</tspan></text>
</svg>
</body></html>
